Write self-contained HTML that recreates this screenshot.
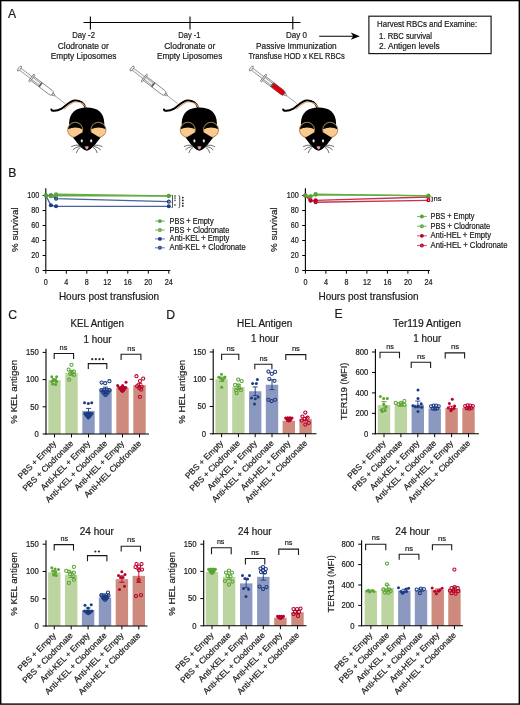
<!DOCTYPE html>
<html><head><meta charset="utf-8"><title>Figure</title>
<style>html,body{margin:0;padding:0;background:#fff;}body{width:520px;height:705px;overflow:hidden;font-family:"Liberation Sans", sans-serif;}svg{display:block;will-change:transform;}svg text{stroke:#1a1a1a;stroke-width:0.2px;}</style>
</head><body>
<svg width="520" height="705" viewBox="0 0 520 705" font-family='"Liberation Sans", sans-serif'>
<rect x="0" y="0" width="520" height="705" fill="#fff"/>
<text x="7.90" y="17.70" font-size="12.2" text-anchor="start" fill="#1a1a1a">A</text>
<line x1="83.50" y1="22.50" x2="300.50" y2="22.50" stroke="#000" stroke-width="1.1"/>
<line x1="90.40" y1="16.40" x2="90.40" y2="29.60" stroke="#000" stroke-width="1.1"/>
<line x1="190.00" y1="16.40" x2="190.00" y2="29.60" stroke="#000" stroke-width="1.1"/>
<line x1="292.80" y1="16.40" x2="292.80" y2="29.60" stroke="#000" stroke-width="1.1"/>
<text x="83.60" y="37.60" font-size="9.0" text-anchor="middle" textLength="22.80" lengthAdjust="spacingAndGlyphs" fill="#1a1a1a">Day -2</text>
<text x="83.30" y="48.80" font-size="9.0" text-anchor="middle" textLength="51.20" lengthAdjust="spacingAndGlyphs" fill="#1a1a1a">Clodronate or</text>
<text x="83.60" y="59.40" font-size="9.0" text-anchor="middle" textLength="65.70" lengthAdjust="spacingAndGlyphs" fill="#1a1a1a">Empty Liposomes</text>
<text x="189.40" y="38.20" font-size="9.0" text-anchor="middle" textLength="22.30" lengthAdjust="spacingAndGlyphs" fill="#1a1a1a">Day -1</text>
<text x="189.80" y="48.80" font-size="9.0" text-anchor="middle" textLength="51.10" lengthAdjust="spacingAndGlyphs" fill="#1a1a1a">Clodronate or</text>
<text x="189.60" y="59.40" font-size="9.0" text-anchor="middle" textLength="65.40" lengthAdjust="spacingAndGlyphs" fill="#1a1a1a">Empty Liposomes</text>
<text x="296.50" y="38.20" font-size="9.0" text-anchor="middle" textLength="21.00" lengthAdjust="spacingAndGlyphs" fill="#1a1a1a">Day 0</text>
<text x="296.40" y="48.80" font-size="9.0" text-anchor="middle" textLength="80.70" lengthAdjust="spacingAndGlyphs" fill="#1a1a1a">Passive Immunization</text>
<text x="296.60" y="59.40" font-size="9.0" text-anchor="middle" textLength="96.30" lengthAdjust="spacingAndGlyphs" fill="#1a1a1a">Transfuse HOD x KEL RBCs</text>
<line x1="319.20" y1="36.20" x2="354.50" y2="36.20" stroke="#000" stroke-width="1.1"/>
<path d="M359.8,36.2 L350.8,32.6 L353.2,36.2 L350.8,39.8 Z" fill="#000"/>
<rect x="368.9" y="16.2" width="122.2" height="37.4" fill="none" stroke="#1a1a1a" stroke-width="1.2"/>
<text x="377.10" y="26.80" font-size="8.3" text-anchor="start" textLength="100.00" lengthAdjust="spacingAndGlyphs" fill="#1a1a1a">Harvest RBCs and Examine:</text>
<text x="379.10" y="38.90" font-size="8.3" text-anchor="start" textLength="52.90" lengthAdjust="spacingAndGlyphs" fill="#1a1a1a">1. RBC survival</text>
<text x="379.10" y="48.60" font-size="8.3" text-anchor="start" textLength="60.60" lengthAdjust="spacingAndGlyphs" fill="#1a1a1a">2. Antigen levels</text>
<g transform="translate(19.0,68.2) rotate(37.5)" stroke="#5a5a5a" stroke-width="0.65" fill="#fafafa"><path d="M15.5,-2.55 L39.8,-2.55 Q42.3,-2.55 42.3,-0.9 L42.3,0.9 Q42.3,2.55 39.8,2.55 L15.5,2.55 Z" fill="#fdfdfd"/><rect x="0.8" y="-1.25" width="25.8" height="2.5" fill="#f6f6f6" stroke-width="0.55"/><rect x="26.5" y="-2.5" width="1.4" height="5.0" fill="#555" stroke="none"/><rect x="15.4" y="-4.5" width="1.5" height="9.0" rx="0.6" fill="#eee"/><ellipse cx="0.6" cy="0" rx="1.15" ry="3.0" fill="#f4f4f4"/><path d="M42.3,-1.3 L45,-0.5 L45,0.5 L42.3,1.3 Z" fill="#eee"/><line x1="45" y1="0" x2="58" y2="0" stroke="#777" stroke-width="0.6"/></g>
<g transform="translate(86.8,147.8)"><path d="M-1.2,-40.0 C-2.8,-45.0 -7.2,-47.6 -11.8,-47.4 C-17.0,-47.2 -20.6,-41.8 -25.2,-39.2 C-28.6,-37.3 -32.2,-36.6 -34.9,-37.3 L-35.4,-38.3" fill="none" stroke="#000" stroke-width="2.0" stroke-linecap="round" stroke-linejoin="round"/><path d="M-1.0,-40.4 C-2.6,-44.2 -6.8,-46.6 -11.6,-46.5 C-16.2,-46.3 -19.4,-42.0 -23.0,-39.6" fill="none" stroke="#dcaa70" stroke-width="1.15" stroke-linecap="round" transform="translate(0.45,0.7)"/><path d="M0,2.6 C-3.8,2.6 -8.5,-3.2 -13.2,-9.6 C-16.6,-14.2 -17.9,-19.2 -17.7,-24.5 C-17.3,-35.6 -10.6,-40.3 0,-40.3 C10.6,-40.3 17.3,-35.6 17.5,-24.5 C17.7,-19.2 16.6,-14.2 13.2,-9.6 C8.5,-3.2 3.8,2.6 0,2.6 Z" fill="#000"/><clipPath id="ec00"><circle cx="-11.6" cy="-18.0" r="7.1499999999999995"/></clipPath><circle cx="-11.6" cy="-18.0" r="7.6" fill="#f9c98e" stroke="#a0743a" stroke-width="0.8"/><g clip-path="url(#ec00)"><path d="M-20.6,-27.0 L-2.5999999999999996,-27.0 L-2.5999999999999996,-17.8 Q-11.6,-22.8 -20.6,-17.6 Z" fill="#000"/></g><clipPath id="ec02"><circle cx="11.6" cy="-18.0" r="7.1499999999999995"/></clipPath><circle cx="11.6" cy="-18.0" r="7.6" fill="#f9c98e" stroke="#a0743a" stroke-width="0.8"/><g clip-path="url(#ec02)"><path d="M2.5999999999999996,-27.0 L20.6,-27.0 L20.6,-17.8 Q11.6,-22.8 2.5999999999999996,-17.6 Z" fill="#000"/></g><path d="M0,2.6 C-3,2.6 -8,-3 -12.9,-10.2 L-5.5,-14.8 L0,-16 L5.5,-14.8 L12.9,-10.2 C8,-3 3,2.6 0,2.6 Z" fill="#000"/><ellipse cx="-5.0" cy="-7.0" rx="1.1" ry="1.6" fill="#e4e4e4"/><ellipse cx="4.4" cy="-7.0" rx="1.1" ry="1.6" fill="#e4e4e4"/><path d="M-2.1,-1.2 Q0,-1.9 2.1,-1.2 Q1.2,1.4 0,1.6 Q-1.2,1.4 -2.1,-1.2 Z" fill="#f49ac2"/><g stroke="#3c3c3c" stroke-width="0.75" stroke-linecap="round" fill="none"><path d="M7.0,-2.6 Q12.0,-3.2 15.2,-1.4"/><path d="M7.0,-1.4 Q11.5,-0.8 13.8,1.9"/><path d="M6.5,-0.4 Q9.6,1.2 10.4,4.9"/><path d="M-7.0,-2.6 Q-12.0,-3.2 -15.2,-1.4"/><path d="M-7.0,-1.4 Q-11.5,-0.8 -13.8,1.9"/><path d="M-6.5,-0.4 Q-9.6,1.2 -10.4,4.9"/></g></g>
<g transform="translate(131.6,68.2) rotate(37.5)" stroke="#5a5a5a" stroke-width="0.65" fill="#fafafa"><path d="M15.5,-2.55 L39.8,-2.55 Q42.3,-2.55 42.3,-0.9 L42.3,0.9 Q42.3,2.55 39.8,2.55 L15.5,2.55 Z" fill="#fdfdfd"/><rect x="0.8" y="-1.25" width="25.8" height="2.5" fill="#f6f6f6" stroke-width="0.55"/><rect x="26.5" y="-2.5" width="1.4" height="5.0" fill="#555" stroke="none"/><rect x="15.4" y="-4.5" width="1.5" height="9.0" rx="0.6" fill="#eee"/><ellipse cx="0.6" cy="0" rx="1.15" ry="3.0" fill="#f4f4f4"/><path d="M42.3,-1.3 L45,-0.5 L45,0.5 L42.3,1.3 Z" fill="#eee"/><line x1="45" y1="0" x2="58" y2="0" stroke="#777" stroke-width="0.6"/></g>
<g transform="translate(199.39999999999998,147.8)"><path d="M-1.2,-40.0 C-2.8,-45.0 -7.2,-47.6 -11.8,-47.4 C-17.0,-47.2 -20.6,-41.8 -25.2,-39.2 C-28.6,-37.3 -32.2,-36.6 -34.9,-37.3 L-35.4,-38.3" fill="none" stroke="#000" stroke-width="2.0" stroke-linecap="round" stroke-linejoin="round"/><path d="M-1.0,-40.4 C-2.6,-44.2 -6.8,-46.6 -11.6,-46.5 C-16.2,-46.3 -19.4,-42.0 -23.0,-39.6" fill="none" stroke="#dcaa70" stroke-width="1.15" stroke-linecap="round" transform="translate(0.45,0.7)"/><path d="M0,2.6 C-3.8,2.6 -8.5,-3.2 -13.2,-9.6 C-16.6,-14.2 -17.9,-19.2 -17.7,-24.5 C-17.3,-35.6 -10.6,-40.3 0,-40.3 C10.6,-40.3 17.3,-35.6 17.5,-24.5 C17.7,-19.2 16.6,-14.2 13.2,-9.6 C8.5,-3.2 3.8,2.6 0,2.6 Z" fill="#000"/><clipPath id="ec10"><circle cx="-11.6" cy="-18.0" r="7.1499999999999995"/></clipPath><circle cx="-11.6" cy="-18.0" r="7.6" fill="#f9c98e" stroke="#a0743a" stroke-width="0.8"/><g clip-path="url(#ec10)"><path d="M-20.6,-27.0 L-2.5999999999999996,-27.0 L-2.5999999999999996,-17.8 Q-11.6,-22.8 -20.6,-17.6 Z" fill="#000"/></g><clipPath id="ec12"><circle cx="11.6" cy="-18.0" r="7.1499999999999995"/></clipPath><circle cx="11.6" cy="-18.0" r="7.6" fill="#f9c98e" stroke="#a0743a" stroke-width="0.8"/><g clip-path="url(#ec12)"><path d="M2.5999999999999996,-27.0 L20.6,-27.0 L20.6,-17.8 Q11.6,-22.8 2.5999999999999996,-17.6 Z" fill="#000"/></g><path d="M0,2.6 C-3,2.6 -8,-3 -12.9,-10.2 L-5.5,-14.8 L0,-16 L5.5,-14.8 L12.9,-10.2 C8,-3 3,2.6 0,2.6 Z" fill="#000"/><ellipse cx="-5.0" cy="-7.0" rx="1.1" ry="1.6" fill="#e4e4e4"/><ellipse cx="4.4" cy="-7.0" rx="1.1" ry="1.6" fill="#e4e4e4"/><path d="M-2.1,-1.2 Q0,-1.9 2.1,-1.2 Q1.2,1.4 0,1.6 Q-1.2,1.4 -2.1,-1.2 Z" fill="#f49ac2"/><g stroke="#3c3c3c" stroke-width="0.75" stroke-linecap="round" fill="none"><path d="M7.0,-2.6 Q12.0,-3.2 15.2,-1.4"/><path d="M7.0,-1.4 Q11.5,-0.8 13.8,1.9"/><path d="M6.5,-0.4 Q9.6,1.2 10.4,4.9"/><path d="M-7.0,-2.6 Q-12.0,-3.2 -15.2,-1.4"/><path d="M-7.0,-1.4 Q-11.5,-0.8 -13.8,1.9"/><path d="M-6.5,-0.4 Q-9.6,1.2 -10.4,4.9"/></g></g>
<g transform="translate(250.8,68.2) rotate(37.5)" stroke="#5a5a5a" stroke-width="0.65" fill="#fafafa"><path d="M15.5,-2.55 L39.8,-2.55 Q42.3,-2.55 42.3,-0.9 L42.3,0.9 Q42.3,2.55 39.8,2.55 L15.5,2.55 Z" fill="#fdfdfd"/><path d="M27.8,-2.3 L39.6,-2.3 Q42,-2.3 42,-0.8 L42,0.8 Q42,2.3 39.6,2.3 L27.8,2.3 Z" fill="#d8000c" stroke="#b00012" stroke-width="0.5"/><rect x="0.8" y="-1.25" width="25.8" height="2.5" fill="#f6f6f6" stroke-width="0.55"/><rect x="26.5" y="-2.5" width="1.4" height="5.0" fill="#555" stroke="none"/><rect x="15.4" y="-4.5" width="1.5" height="9.0" rx="0.6" fill="#eee"/><ellipse cx="0.6" cy="0" rx="1.15" ry="3.0" fill="#f4f4f4"/><path d="M42.3,-1.3 L45,-0.5 L45,0.5 L42.3,1.3 Z" fill="#eee"/><line x1="45" y1="0" x2="58" y2="0" stroke="#777" stroke-width="0.6"/></g>
<g transform="translate(318.6,147.8)"><path d="M-1.2,-40.0 C-2.8,-45.0 -7.2,-47.6 -11.8,-47.4 C-17.0,-47.2 -20.6,-41.8 -25.2,-39.2 C-28.6,-37.3 -32.2,-36.6 -34.9,-37.3 L-35.4,-38.3" fill="none" stroke="#000" stroke-width="2.0" stroke-linecap="round" stroke-linejoin="round"/><path d="M-1.0,-40.4 C-2.6,-44.2 -6.8,-46.6 -11.6,-46.5 C-16.2,-46.3 -19.4,-42.0 -23.0,-39.6" fill="none" stroke="#dcaa70" stroke-width="1.15" stroke-linecap="round" transform="translate(0.45,0.7)"/><path d="M0,2.6 C-3.8,2.6 -8.5,-3.2 -13.2,-9.6 C-16.6,-14.2 -17.9,-19.2 -17.7,-24.5 C-17.3,-35.6 -10.6,-40.3 0,-40.3 C10.6,-40.3 17.3,-35.6 17.5,-24.5 C17.7,-19.2 16.6,-14.2 13.2,-9.6 C8.5,-3.2 3.8,2.6 0,2.6 Z" fill="#000"/><clipPath id="ec20"><circle cx="-11.6" cy="-18.0" r="7.1499999999999995"/></clipPath><circle cx="-11.6" cy="-18.0" r="7.6" fill="#f9c98e" stroke="#a0743a" stroke-width="0.8"/><g clip-path="url(#ec20)"><path d="M-20.6,-27.0 L-2.5999999999999996,-27.0 L-2.5999999999999996,-17.8 Q-11.6,-22.8 -20.6,-17.6 Z" fill="#000"/></g><clipPath id="ec22"><circle cx="11.6" cy="-18.0" r="7.1499999999999995"/></clipPath><circle cx="11.6" cy="-18.0" r="7.6" fill="#f9c98e" stroke="#a0743a" stroke-width="0.8"/><g clip-path="url(#ec22)"><path d="M2.5999999999999996,-27.0 L20.6,-27.0 L20.6,-17.8 Q11.6,-22.8 2.5999999999999996,-17.6 Z" fill="#000"/></g><path d="M0,2.6 C-3,2.6 -8,-3 -12.9,-10.2 L-5.5,-14.8 L0,-16 L5.5,-14.8 L12.9,-10.2 C8,-3 3,2.6 0,2.6 Z" fill="#000"/><ellipse cx="-5.0" cy="-7.0" rx="1.1" ry="1.6" fill="#e4e4e4"/><ellipse cx="4.4" cy="-7.0" rx="1.1" ry="1.6" fill="#e4e4e4"/><path d="M-2.1,-1.2 Q0,-1.9 2.1,-1.2 Q1.2,1.4 0,1.6 Q-1.2,1.4 -2.1,-1.2 Z" fill="#f49ac2"/><g stroke="#3c3c3c" stroke-width="0.75" stroke-linecap="round" fill="none"><path d="M7.0,-2.6 Q12.0,-3.2 15.2,-1.4"/><path d="M7.0,-1.4 Q11.5,-0.8 13.8,1.9"/><path d="M6.5,-0.4 Q9.6,1.2 10.4,4.9"/><path d="M-7.0,-2.6 Q-12.0,-3.2 -15.2,-1.4"/><path d="M-7.0,-1.4 Q-11.5,-0.8 -13.8,1.9"/><path d="M-6.5,-0.4 Q-9.6,1.2 -10.4,4.9"/></g></g>
<text x="8.30" y="177.20" font-size="12.2" text-anchor="start" fill="#1a1a1a">B</text>
<line x1="45.80" y1="188.20" x2="45.80" y2="271.00" stroke="#000" stroke-width="1.1"/>
<line x1="45.30" y1="270.50" x2="170.30" y2="270.50" stroke="#000" stroke-width="1.1"/>
<line x1="42.60" y1="270.50" x2="45.80" y2="270.50" stroke="#000" stroke-width="1"/>
<text x="39.20" y="273.30" font-size="8.3" text-anchor="end" textLength="4.00" lengthAdjust="spacingAndGlyphs" fill="#1a1a1a">0</text>
<line x1="42.60" y1="255.50" x2="45.80" y2="255.50" stroke="#000" stroke-width="1"/>
<text x="39.20" y="258.30" font-size="8.3" text-anchor="end" textLength="8.00" lengthAdjust="spacingAndGlyphs" fill="#1a1a1a">20</text>
<line x1="42.60" y1="240.50" x2="45.80" y2="240.50" stroke="#000" stroke-width="1"/>
<text x="39.20" y="243.30" font-size="8.3" text-anchor="end" textLength="8.00" lengthAdjust="spacingAndGlyphs" fill="#1a1a1a">40</text>
<line x1="42.60" y1="225.50" x2="45.80" y2="225.50" stroke="#000" stroke-width="1"/>
<text x="39.20" y="228.30" font-size="8.3" text-anchor="end" textLength="8.00" lengthAdjust="spacingAndGlyphs" fill="#1a1a1a">60</text>
<line x1="42.60" y1="210.50" x2="45.80" y2="210.50" stroke="#000" stroke-width="1"/>
<text x="39.20" y="213.30" font-size="8.3" text-anchor="end" textLength="8.00" lengthAdjust="spacingAndGlyphs" fill="#1a1a1a">80</text>
<line x1="42.60" y1="195.50" x2="45.80" y2="195.50" stroke="#000" stroke-width="1"/>
<text x="39.20" y="198.30" font-size="8.3" text-anchor="end" textLength="12.00" lengthAdjust="spacingAndGlyphs" fill="#1a1a1a">100</text>
<line x1="45.80" y1="270.50" x2="45.80" y2="273.70" stroke="#000" stroke-width="1"/>
<text x="45.80" y="285.30" font-size="8.3" text-anchor="middle" textLength="4.00" lengthAdjust="spacingAndGlyphs" fill="#1a1a1a">0</text>
<line x1="66.30" y1="270.50" x2="66.30" y2="273.70" stroke="#000" stroke-width="1"/>
<text x="66.30" y="285.30" font-size="8.3" text-anchor="middle" textLength="4.00" lengthAdjust="spacingAndGlyphs" fill="#1a1a1a">4</text>
<line x1="86.80" y1="270.50" x2="86.80" y2="273.70" stroke="#000" stroke-width="1"/>
<text x="86.80" y="285.30" font-size="8.3" text-anchor="middle" textLength="4.00" lengthAdjust="spacingAndGlyphs" fill="#1a1a1a">8</text>
<line x1="107.30" y1="270.50" x2="107.30" y2="273.70" stroke="#000" stroke-width="1"/>
<text x="107.30" y="285.30" font-size="8.3" text-anchor="middle" textLength="8.00" lengthAdjust="spacingAndGlyphs" fill="#1a1a1a">12</text>
<line x1="127.80" y1="270.50" x2="127.80" y2="273.70" stroke="#000" stroke-width="1"/>
<text x="127.80" y="285.30" font-size="8.3" text-anchor="middle" textLength="8.00" lengthAdjust="spacingAndGlyphs" fill="#1a1a1a">16</text>
<line x1="148.30" y1="270.50" x2="148.30" y2="273.70" stroke="#000" stroke-width="1"/>
<text x="148.30" y="285.30" font-size="8.3" text-anchor="middle" textLength="8.00" lengthAdjust="spacingAndGlyphs" fill="#1a1a1a">20</text>
<line x1="168.80" y1="270.50" x2="168.80" y2="273.70" stroke="#000" stroke-width="1"/>
<text x="168.80" y="285.30" font-size="8.3" text-anchor="middle" textLength="8.00" lengthAdjust="spacingAndGlyphs" fill="#1a1a1a">24</text>
<text x="109.00" y="299.90" font-size="10.3" text-anchor="middle" textLength="100.20" lengthAdjust="spacingAndGlyphs" fill="#1a1a1a">Hours post transfusion</text>
<text transform="translate(17.80,229.70) rotate(-90)" x="0" y="0" font-size="9.8" text-anchor="middle" textLength="44.70" lengthAdjust="spacingAndGlyphs" fill="#1a1a1a">% survival</text>
<path d="M45.80,195.50 L50.92,195.28 L56.05,198.65 L168.80,201.65" fill="none" stroke="#4862a0" stroke-width="1.35"/>
<circle cx="45.80" cy="195.50" r="1.43" fill="none" stroke="#1f3c85" stroke-width="1.27"/>
<circle cx="50.92" cy="195.28" r="1.43" fill="none" stroke="#1f3c85" stroke-width="1.27"/>
<circle cx="56.05" cy="198.65" r="1.43" fill="none" stroke="#1f3c85" stroke-width="1.27"/>
<circle cx="168.80" cy="201.65" r="1.43" fill="none" stroke="#1f3c85" stroke-width="1.27"/>
<path d="M45.80,195.50 L50.92,205.32 L56.05,206.30 L168.80,206.30" fill="none" stroke="#4862a0" stroke-width="1.35"/>
<circle cx="45.80" cy="195.50" r="2.05" fill="#1f3c85"/>
<circle cx="50.92" cy="205.32" r="2.05" fill="#1f3c85"/>
<circle cx="56.05" cy="206.30" r="2.05" fill="#1f3c85"/>
<circle cx="168.80" cy="206.30" r="2.05" fill="#1f3c85"/>
<path d="M45.80,195.50 L50.92,196.18 L56.05,195.50 L168.80,196.03" fill="none" stroke="#64ad42" stroke-width="1.35"/>
<circle cx="45.80" cy="195.50" r="2.05" fill="#55a332"/>
<circle cx="50.92" cy="196.18" r="2.05" fill="#55a332"/>
<circle cx="56.05" cy="195.50" r="2.05" fill="#55a332"/>
<circle cx="168.80" cy="196.03" r="2.05" fill="#55a332"/>
<path d="M45.80,195.50 L50.92,196.25 L56.05,194.30 L168.80,195.88" fill="none" stroke="#64ad42" stroke-width="1.35"/>
<circle cx="45.80" cy="195.50" r="1.43" fill="none" stroke="#55a332" stroke-width="1.27"/>
<circle cx="50.92" cy="196.25" r="1.43" fill="none" stroke="#55a332" stroke-width="1.27"/>
<circle cx="56.05" cy="194.30" r="1.43" fill="none" stroke="#55a332" stroke-width="1.27"/>
<circle cx="168.80" cy="195.88" r="1.43" fill="none" stroke="#55a332" stroke-width="1.27"/>
<line x1="155.00" y1="221.10" x2="164.80" y2="221.10" stroke="#64ad42" stroke-width="1.1" stroke-opacity="0.8"/>
<circle cx="159.90" cy="221.10" r="1.95" fill="#55a332"/>
<text x="169.60" y="223.60" font-size="8.4" text-anchor="start" textLength="44.00" lengthAdjust="spacingAndGlyphs" fill="#1a1a1a">PBS + Empty</text>
<line x1="155.00" y1="230.00" x2="164.80" y2="230.00" stroke="#64ad42" stroke-width="1.1" stroke-opacity="0.8"/>
<circle cx="159.90" cy="230.00" r="1.36" fill="none" stroke="#55a332" stroke-width="1.21"/>
<text x="169.60" y="232.50" font-size="8.4" text-anchor="start" textLength="59.70" lengthAdjust="spacingAndGlyphs" fill="#1a1a1a">PBS + Clodronate</text>
<line x1="155.00" y1="238.90" x2="164.80" y2="238.90" stroke="#4862a0" stroke-width="1.1" stroke-opacity="0.8"/>
<circle cx="159.90" cy="238.90" r="1.95" fill="#1f3c85"/>
<text x="169.60" y="241.40" font-size="8.4" text-anchor="start" textLength="59.70" lengthAdjust="spacingAndGlyphs" fill="#1a1a1a">Anti-KEL + Empty</text>
<line x1="155.00" y1="247.80" x2="164.80" y2="247.80" stroke="#4862a0" stroke-width="1.1" stroke-opacity="0.8"/>
<circle cx="159.90" cy="247.80" r="1.36" fill="none" stroke="#1f3c85" stroke-width="1.21"/>
<text x="169.60" y="250.30" font-size="8.4" text-anchor="start" textLength="76.10" lengthAdjust="spacingAndGlyphs" fill="#1a1a1a">Anti-KEL + Clodronate</text>
<g stroke="#1a1a1a" stroke-width="0.75" fill="none"><path d="M171.4,195.4 L172.5,195.4 L172.5,207.4 L171.4,207.4 M171.6,202.1 L172.5,202.1"/><path d="M178.4,195.5 Q179.7,195.6 179.7,196.8 L179.7,206.6 Q179.7,207.8 178.4,207.8"/></g>
<g fill="#555">
<circle cx="175.0" cy="195.9" r="0.85"/>
<circle cx="175.0" cy="198.1" r="0.85"/>
<circle cx="175.0" cy="200.3" r="0.85"/>
<circle cx="175.0" cy="204.9" r="0.85"/>
</g><g fill="#1a1a1a">
<circle cx="182.8" cy="197.6" r="0.9"/>
<circle cx="182.8" cy="200.4" r="0.9"/>
<circle cx="182.8" cy="203.3" r="0.9"/>
<circle cx="182.8" cy="205.9" r="0.9"/>
</g>
<line x1="305.40" y1="188.20" x2="305.40" y2="271.00" stroke="#000" stroke-width="1.1"/>
<line x1="304.90" y1="270.50" x2="429.90" y2="270.50" stroke="#000" stroke-width="1.1"/>
<line x1="302.20" y1="270.50" x2="305.40" y2="270.50" stroke="#000" stroke-width="1"/>
<text x="298.80" y="273.30" font-size="8.3" text-anchor="end" textLength="4.00" lengthAdjust="spacingAndGlyphs" fill="#1a1a1a">0</text>
<line x1="302.20" y1="255.50" x2="305.40" y2="255.50" stroke="#000" stroke-width="1"/>
<text x="298.80" y="258.30" font-size="8.3" text-anchor="end" textLength="8.00" lengthAdjust="spacingAndGlyphs" fill="#1a1a1a">20</text>
<line x1="302.20" y1="240.50" x2="305.40" y2="240.50" stroke="#000" stroke-width="1"/>
<text x="298.80" y="243.30" font-size="8.3" text-anchor="end" textLength="8.00" lengthAdjust="spacingAndGlyphs" fill="#1a1a1a">40</text>
<line x1="302.20" y1="225.50" x2="305.40" y2="225.50" stroke="#000" stroke-width="1"/>
<text x="298.80" y="228.30" font-size="8.3" text-anchor="end" textLength="8.00" lengthAdjust="spacingAndGlyphs" fill="#1a1a1a">60</text>
<line x1="302.20" y1="210.50" x2="305.40" y2="210.50" stroke="#000" stroke-width="1"/>
<text x="298.80" y="213.30" font-size="8.3" text-anchor="end" textLength="8.00" lengthAdjust="spacingAndGlyphs" fill="#1a1a1a">80</text>
<line x1="302.20" y1="195.50" x2="305.40" y2="195.50" stroke="#000" stroke-width="1"/>
<text x="298.80" y="198.30" font-size="8.3" text-anchor="end" textLength="12.00" lengthAdjust="spacingAndGlyphs" fill="#1a1a1a">100</text>
<line x1="305.40" y1="270.50" x2="305.40" y2="273.70" stroke="#000" stroke-width="1"/>
<text x="305.40" y="285.30" font-size="8.3" text-anchor="middle" textLength="4.00" lengthAdjust="spacingAndGlyphs" fill="#1a1a1a">0</text>
<line x1="325.90" y1="270.50" x2="325.90" y2="273.70" stroke="#000" stroke-width="1"/>
<text x="325.90" y="285.30" font-size="8.3" text-anchor="middle" textLength="4.00" lengthAdjust="spacingAndGlyphs" fill="#1a1a1a">4</text>
<line x1="346.40" y1="270.50" x2="346.40" y2="273.70" stroke="#000" stroke-width="1"/>
<text x="346.40" y="285.30" font-size="8.3" text-anchor="middle" textLength="4.00" lengthAdjust="spacingAndGlyphs" fill="#1a1a1a">8</text>
<line x1="366.90" y1="270.50" x2="366.90" y2="273.70" stroke="#000" stroke-width="1"/>
<text x="366.90" y="285.30" font-size="8.3" text-anchor="middle" textLength="8.00" lengthAdjust="spacingAndGlyphs" fill="#1a1a1a">12</text>
<line x1="387.40" y1="270.50" x2="387.40" y2="273.70" stroke="#000" stroke-width="1"/>
<text x="387.40" y="285.30" font-size="8.3" text-anchor="middle" textLength="8.00" lengthAdjust="spacingAndGlyphs" fill="#1a1a1a">16</text>
<line x1="407.90" y1="270.50" x2="407.90" y2="273.70" stroke="#000" stroke-width="1"/>
<text x="407.90" y="285.30" font-size="8.3" text-anchor="middle" textLength="8.00" lengthAdjust="spacingAndGlyphs" fill="#1a1a1a">20</text>
<line x1="428.40" y1="270.50" x2="428.40" y2="273.70" stroke="#000" stroke-width="1"/>
<text x="428.40" y="285.30" font-size="8.3" text-anchor="middle" textLength="8.00" lengthAdjust="spacingAndGlyphs" fill="#1a1a1a">24</text>
<text x="368.60" y="299.90" font-size="10.3" text-anchor="middle" textLength="100.20" lengthAdjust="spacingAndGlyphs" fill="#1a1a1a">Hours post transfusion</text>
<text transform="translate(277.40,229.70) rotate(-90)" x="0" y="0" font-size="9.8" text-anchor="middle" textLength="44.70" lengthAdjust="spacingAndGlyphs" fill="#1a1a1a">% survival</text>
<path d="M305.40,195.50 L310.52,200.00 L315.65,202.25 L428.40,200.30" fill="none" stroke="#c43250" stroke-width="1.35"/>
<circle cx="305.40" cy="195.50" r="1.43" fill="none" stroke="#b8002a" stroke-width="1.27"/>
<circle cx="310.52" cy="200.00" r="1.43" fill="none" stroke="#b8002a" stroke-width="1.27"/>
<circle cx="315.65" cy="202.25" r="1.43" fill="none" stroke="#b8002a" stroke-width="1.27"/>
<circle cx="428.40" cy="200.30" r="1.43" fill="none" stroke="#b8002a" stroke-width="1.27"/>
<path d="M305.40,195.50 L310.52,200.75 L315.65,200.30 L428.40,197.00" fill="none" stroke="#c43250" stroke-width="1.35"/>
<circle cx="305.40" cy="195.50" r="2.05" fill="#b8002a"/>
<circle cx="310.52" cy="200.75" r="2.05" fill="#b8002a"/>
<circle cx="315.65" cy="200.30" r="2.05" fill="#b8002a"/>
<circle cx="428.40" cy="197.00" r="2.05" fill="#b8002a"/>
<path d="M305.40,195.50 L310.52,196.25 L315.65,194.75 L428.40,195.57" fill="none" stroke="#64ad42" stroke-width="1.35"/>
<circle cx="305.40" cy="195.50" r="2.05" fill="#55a332"/>
<circle cx="310.52" cy="196.25" r="2.05" fill="#55a332"/>
<circle cx="315.65" cy="194.75" r="2.05" fill="#55a332"/>
<circle cx="428.40" cy="195.57" r="2.05" fill="#55a332"/>
<path d="M305.40,195.50 L310.52,196.55 L315.65,194.15 L428.40,195.95" fill="none" stroke="#64ad42" stroke-width="1.35"/>
<circle cx="305.40" cy="195.50" r="1.43" fill="none" stroke="#55a332" stroke-width="1.27"/>
<circle cx="310.52" cy="196.55" r="1.43" fill="none" stroke="#55a332" stroke-width="1.27"/>
<circle cx="315.65" cy="194.15" r="1.43" fill="none" stroke="#55a332" stroke-width="1.27"/>
<circle cx="428.40" cy="195.95" r="1.43" fill="none" stroke="#55a332" stroke-width="1.27"/>
<line x1="417.00" y1="216.50" x2="426.80" y2="216.50" stroke="#64ad42" stroke-width="1.1" stroke-opacity="0.8"/>
<circle cx="421.90" cy="216.50" r="1.95" fill="#55a332"/>
<text x="430.50" y="219.00" font-size="8.4" text-anchor="start" textLength="44.00" lengthAdjust="spacingAndGlyphs" fill="#1a1a1a">PBS + Empty</text>
<line x1="417.00" y1="226.17" x2="426.80" y2="226.17" stroke="#64ad42" stroke-width="1.1" stroke-opacity="0.8"/>
<circle cx="421.90" cy="226.17" r="1.36" fill="none" stroke="#55a332" stroke-width="1.21"/>
<text x="430.50" y="228.67" font-size="8.4" text-anchor="start" textLength="59.70" lengthAdjust="spacingAndGlyphs" fill="#1a1a1a">PBS + Clodronate</text>
<line x1="417.00" y1="235.84" x2="426.80" y2="235.84" stroke="#c43250" stroke-width="1.1" stroke-opacity="0.8"/>
<circle cx="421.90" cy="235.84" r="1.95" fill="#b8002a"/>
<text x="430.50" y="238.34" font-size="8.4" text-anchor="start" textLength="60.50" lengthAdjust="spacingAndGlyphs" fill="#1a1a1a">Anti-HEL + Empty</text>
<line x1="417.00" y1="245.51" x2="426.80" y2="245.51" stroke="#c43250" stroke-width="1.1" stroke-opacity="0.8"/>
<circle cx="421.90" cy="245.51" r="1.36" fill="none" stroke="#b8002a" stroke-width="1.21"/>
<text x="430.50" y="248.01" font-size="8.4" text-anchor="start" textLength="77.00" lengthAdjust="spacingAndGlyphs" fill="#1a1a1a">Anti-HEL + Clodronate</text>
<path d="M431.4,197.0 L432.3,197.0 L432.3,201.5 L431.4,201.5" stroke="#1a1a1a" stroke-width="0.9" fill="none"/>
<text x="433.60" y="200.70" font-size="8.0" text-anchor="start" textLength="8.00" lengthAdjust="spacingAndGlyphs" fill="#1a1a1a">ns</text>
<text x="8.20" y="318.50" font-size="12.2" text-anchor="start" fill="#1a1a1a">C</text>
<text x="166.20" y="318.80" font-size="12.2" text-anchor="start" fill="#1a1a1a">D</text>
<text x="334.40" y="318.30" font-size="12.2" text-anchor="start" fill="#1a1a1a">E</text>
<rect x="48.30" y="380.14" width="12.4" height="53.86" fill="#bcd4a0"/>
<rect x="65.30" y="372.91" width="12.4" height="61.09" fill="#bcd4a0"/>
<rect x="82.30" y="410.88" width="12.4" height="23.12" fill="#8b99c0"/>
<rect x="99.30" y="388.90" width="12.4" height="45.10" fill="#8b99c0"/>
<rect x="116.30" y="387.98" width="12.4" height="46.02" fill="#cf8a7e"/>
<rect x="133.30" y="385.09" width="12.4" height="48.91" fill="#cf8a7e"/>
<path d="M54.50,381.50 L54.50,378.78 M51.90,378.78 L57.10,378.78 M51.90,381.50 L57.10,381.50" stroke="#5aa534" stroke-width="0.9" fill="none"/>
<path d="M71.50,375.25 L71.50,370.35 M68.90,370.35 L74.10,370.35 M68.90,375.25 L74.10,375.25" stroke="#5aa534" stroke-width="0.9" fill="none"/>
<path d="M88.50,413.33 L88.50,408.43 M85.90,408.43 L91.10,408.43 M85.90,413.33 L91.10,413.33" stroke="#1b3a82" stroke-width="0.9" fill="none"/>
<path d="M105.50,390.48 L105.50,387.11 M102.90,387.11 L108.10,387.11 M102.90,390.48 L108.10,390.48" stroke="#1b3a82" stroke-width="0.9" fill="none"/>
<path d="M122.50,389.39 L122.50,386.67 M119.90,386.67 L125.10,386.67 M119.90,389.39 L125.10,389.39" stroke="#b8002b" stroke-width="0.9" fill="none"/>
<path d="M139.50,387.22 L139.50,383.41 M136.90,383.41 L142.10,383.41 M136.90,387.22 L142.10,387.22" stroke="#b8002b" stroke-width="0.9" fill="none"/>
<circle cx="51.80" cy="376.80" r="1.5" fill="#5aa534"/>
<circle cx="56.60" cy="376.80" r="1.5" fill="#5aa534"/>
<circle cx="53.20" cy="379.70" r="1.5" fill="#5aa534"/>
<circle cx="55.60" cy="380.20" r="1.5" fill="#5aa534"/>
<circle cx="51.80" cy="381.60" r="1.5" fill="#5aa534"/>
<circle cx="56.60" cy="381.80" r="1.5" fill="#5aa534"/>
<circle cx="52.70" cy="384.00" r="1.5" fill="#5aa534"/>
<circle cx="55.60" cy="384.50" r="1.5" fill="#5aa534"/>
<circle cx="71.50" cy="364.80" r="1.6" fill="none" stroke="#5aa534" stroke-width="1.05"/>
<circle cx="68.60" cy="369.60" r="1.6" fill="none" stroke="#5aa534" stroke-width="1.05"/>
<circle cx="73.90" cy="371.50" r="1.6" fill="none" stroke="#5aa534" stroke-width="1.05"/>
<circle cx="70.20" cy="373.60" r="1.6" fill="none" stroke="#5aa534" stroke-width="1.05"/>
<circle cx="73.90" cy="374.90" r="1.6" fill="none" stroke="#5aa534" stroke-width="1.05"/>
<circle cx="69.10" cy="379.70" r="1.6" fill="none" stroke="#5aa534" stroke-width="1.05"/>
<circle cx="71.80" cy="372.30" r="1.6" fill="none" stroke="#5aa534" stroke-width="1.05"/>
<circle cx="84.50" cy="402.70" r="1.5" fill="#1b3a82"/>
<circle cx="88.30" cy="403.40" r="1.5" fill="#1b3a82"/>
<circle cx="91.70" cy="402.70" r="1.5" fill="#1b3a82"/>
<circle cx="84.80" cy="413.53" r="1.5" fill="#1b3a82"/>
<circle cx="87.18" cy="413.30" r="1.5" fill="#1b3a82"/>
<circle cx="89.62" cy="413.30" r="1.5" fill="#1b3a82"/>
<circle cx="92.00" cy="413.53" r="1.5" fill="#1b3a82"/>
<circle cx="86.02" cy="415.14" r="1.5" fill="#1b3a82"/>
<circle cx="88.40" cy="415.05" r="1.5" fill="#1b3a82"/>
<circle cx="90.78" cy="415.14" r="1.5" fill="#1b3a82"/>
<circle cx="87.25" cy="416.75" r="1.5" fill="#1b3a82"/>
<circle cx="89.55" cy="416.75" r="1.5" fill="#1b3a82"/>
<circle cx="88.40" cy="417.90" r="1.5" fill="#1b3a82"/>
<circle cx="101.60" cy="382.50" r="1.6" fill="none" stroke="#1b3a82" stroke-width="1.05"/>
<circle cx="105.20" cy="383.20" r="1.6" fill="none" stroke="#1b3a82" stroke-width="1.05"/>
<circle cx="109.40" cy="381.20" r="1.6" fill="none" stroke="#1b3a82" stroke-width="1.05"/>
<circle cx="101.50" cy="390.15" r="1.6" fill="none" stroke="#1b3a82" stroke-width="1.05"/>
<circle cx="104.14" cy="389.90" r="1.6" fill="none" stroke="#1b3a82" stroke-width="1.05"/>
<circle cx="106.86" cy="389.90" r="1.6" fill="none" stroke="#1b3a82" stroke-width="1.05"/>
<circle cx="109.50" cy="390.15" r="1.6" fill="none" stroke="#1b3a82" stroke-width="1.05"/>
<circle cx="102.86" cy="391.90" r="1.6" fill="none" stroke="#1b3a82" stroke-width="1.05"/>
<circle cx="105.50" cy="391.80" r="1.6" fill="none" stroke="#1b3a82" stroke-width="1.05"/>
<circle cx="108.14" cy="391.90" r="1.6" fill="none" stroke="#1b3a82" stroke-width="1.05"/>
<circle cx="104.22" cy="393.65" r="1.6" fill="none" stroke="#1b3a82" stroke-width="1.05"/>
<circle cx="106.78" cy="393.65" r="1.6" fill="none" stroke="#1b3a82" stroke-width="1.05"/>
<circle cx="105.50" cy="394.90" r="1.6" fill="none" stroke="#1b3a82" stroke-width="1.05"/>
<circle cx="117.60" cy="385.40" r="1.5" fill="#b8002b"/>
<circle cx="122.60" cy="385.40" r="1.5" fill="#b8002b"/>
<circle cx="126.00" cy="382.20" r="1.5" fill="#b8002b"/>
<circle cx="118.90" cy="387.51" r="1.5" fill="#b8002b"/>
<circle cx="121.21" cy="387.30" r="1.5" fill="#b8002b"/>
<circle cx="123.59" cy="387.30" r="1.5" fill="#b8002b"/>
<circle cx="125.90" cy="387.51" r="1.5" fill="#b8002b"/>
<circle cx="120.09" cy="388.98" r="1.5" fill="#b8002b"/>
<circle cx="122.40" cy="388.90" r="1.5" fill="#b8002b"/>
<circle cx="124.71" cy="388.98" r="1.5" fill="#b8002b"/>
<circle cx="121.28" cy="390.45" r="1.5" fill="#b8002b"/>
<circle cx="123.52" cy="390.45" r="1.5" fill="#b8002b"/>
<circle cx="122.40" cy="391.50" r="1.5" fill="#b8002b"/>
<circle cx="136.40" cy="376.20" r="1.6" fill="none" stroke="#b8002b" stroke-width="1.05"/>
<circle cx="143.20" cy="378.60" r="1.6" fill="none" stroke="#b8002b" stroke-width="1.05"/>
<circle cx="140.00" cy="381.00" r="1.6" fill="none" stroke="#b8002b" stroke-width="1.05"/>
<circle cx="137.20" cy="386.20" r="1.6" fill="none" stroke="#b8002b" stroke-width="1.05"/>
<circle cx="141.60" cy="386.60" r="1.6" fill="none" stroke="#b8002b" stroke-width="1.05"/>
<circle cx="139.40" cy="388.20" r="1.6" fill="none" stroke="#b8002b" stroke-width="1.05"/>
<circle cx="141.20" cy="389.60" r="1.6" fill="none" stroke="#b8002b" stroke-width="1.05"/>
<circle cx="139.90" cy="396.80" r="1.6" fill="none" stroke="#b8002b" stroke-width="1.05"/>
<line x1="46.00" y1="348.80" x2="46.00" y2="434.55" stroke="#000" stroke-width="1.1"/>
<line x1="45.45" y1="434.00" x2="149.00" y2="434.00" stroke="#000" stroke-width="1.1"/>
<line x1="42.60" y1="434.00" x2="46.00" y2="434.00" stroke="#000" stroke-width="1"/>
<text x="38.80" y="436.80" font-size="8.3" text-anchor="end" textLength="4.27" lengthAdjust="spacingAndGlyphs" fill="#1a1a1a">0</text>
<line x1="42.60" y1="406.80" x2="46.00" y2="406.80" stroke="#000" stroke-width="1"/>
<text x="38.80" y="409.60" font-size="8.3" text-anchor="end" textLength="8.54" lengthAdjust="spacingAndGlyphs" fill="#1a1a1a">50</text>
<line x1="42.60" y1="379.60" x2="46.00" y2="379.60" stroke="#000" stroke-width="1"/>
<text x="38.80" y="382.40" font-size="8.3" text-anchor="end" textLength="12.81" lengthAdjust="spacingAndGlyphs" fill="#1a1a1a">100</text>
<line x1="42.60" y1="352.40" x2="46.00" y2="352.40" stroke="#000" stroke-width="1"/>
<text x="38.80" y="355.20" font-size="8.3" text-anchor="end" textLength="12.81" lengthAdjust="spacingAndGlyphs" fill="#1a1a1a">150</text>
<line x1="54.50" y1="434.00" x2="54.50" y2="437.40" stroke="#000" stroke-width="1"/>
<line x1="71.50" y1="434.00" x2="71.50" y2="437.40" stroke="#000" stroke-width="1"/>
<line x1="88.50" y1="434.00" x2="88.50" y2="437.40" stroke="#000" stroke-width="1"/>
<line x1="105.50" y1="434.00" x2="105.50" y2="437.40" stroke="#000" stroke-width="1"/>
<line x1="122.50" y1="434.00" x2="122.50" y2="437.40" stroke="#000" stroke-width="1"/>
<line x1="139.50" y1="434.00" x2="139.50" y2="437.40" stroke="#000" stroke-width="1"/>
<text transform="translate(56.70,444.00) rotate(-45)" font-size="8.4" text-anchor="end" fill="#1a1a1a">PBS + Empty</text>
<text transform="translate(73.70,444.00) rotate(-45)" font-size="8.4" text-anchor="end" fill="#1a1a1a">PBS + Clodronate</text>
<text transform="translate(90.70,444.00) rotate(-45)" font-size="8.4" text-anchor="end" fill="#1a1a1a">Anti-KEL + Empty</text>
<text transform="translate(107.70,444.00) rotate(-45)" font-size="8.4" text-anchor="end" fill="#1a1a1a">Anti-KEL + Clodronate</text>
<text transform="translate(124.70,444.00) rotate(-45)" font-size="8.4" text-anchor="end" fill="#1a1a1a">Anti-HEL + Empty</text>
<text transform="translate(141.70,444.00) rotate(-45)" font-size="8.4" text-anchor="end" fill="#1a1a1a">Anti-HEL Clodronate</text>
<text transform="translate(17.40,391.80) rotate(-90)" x="0" y="0" font-size="9.7" text-anchor="middle" textLength="63.80" lengthAdjust="spacingAndGlyphs" fill="#1a1a1a">% KEL antigen</text>
<text x="97.30" y="327.40" font-size="10.0" text-anchor="middle" textLength="53.40" lengthAdjust="spacingAndGlyphs" fill="#1a1a1a">KEL Antigen</text>
<text x="97.50" y="343.00" font-size="10.0" text-anchor="middle" textLength="28.00" lengthAdjust="spacingAndGlyphs" fill="#1a1a1a">1 hour</text>
<path d="M54.20,359.10 L54.20,353.50 L73.60,353.50 L73.60,359.10" stroke="#1a1a1a" stroke-width="1.1" fill="none"/>
<text x="63.50" y="350.30" font-size="8.0" text-anchor="middle" textLength="7.80" lengthAdjust="spacingAndGlyphs" fill="#1a1a1a">ns</text>
<path d="M88.30,369.00 L88.30,363.60 L106.80,363.60 L106.80,369.00" stroke="#1a1a1a" stroke-width="1.1" fill="none"/>
<circle cx="92.25" cy="359.20" r="1.1" fill="#2a2a2a"/>
<circle cx="95.85" cy="359.20" r="1.1" fill="#2a2a2a"/>
<circle cx="99.45" cy="359.20" r="1.1" fill="#2a2a2a"/>
<circle cx="103.05" cy="359.20" r="1.1" fill="#2a2a2a"/>
<path d="M121.10,359.90 L121.10,354.20 L140.90,354.20 L140.90,359.90" stroke="#1a1a1a" stroke-width="1.1" fill="none"/>
<text x="131.25" y="350.60" font-size="8.0" text-anchor="middle" textLength="7.90" lengthAdjust="spacingAndGlyphs" fill="#1a1a1a">ns</text>
<rect x="215.40" y="379.27" width="12.4" height="54.53" fill="#bcd4a0"/>
<rect x="232.20" y="386.90" width="12.4" height="46.90" fill="#bcd4a0"/>
<rect x="249.00" y="391.26" width="12.4" height="42.54" fill="#8b99c0"/>
<rect x="265.80" y="384.72" width="12.4" height="49.08" fill="#8b99c0"/>
<rect x="282.60" y="420.71" width="12.4" height="13.09" fill="#cf8a7e"/>
<rect x="299.40" y="419.08" width="12.4" height="14.72" fill="#cf8a7e"/>
<path d="M221.60,381.45 L221.60,377.09 M219.00,377.09 L224.20,377.09 M219.00,381.45 L224.20,381.45" stroke="#5aa534" stroke-width="0.9" fill="none"/>
<path d="M238.40,389.08 L238.40,384.72 M235.80,384.72 L241.00,384.72 M235.80,389.08 L241.00,389.08" stroke="#5aa534" stroke-width="0.9" fill="none"/>
<path d="M255.20,395.63 L255.20,386.90 M252.60,386.90 L257.80,386.90 M252.60,395.63 L257.80,395.63" stroke="#1b3a82" stroke-width="0.9" fill="none"/>
<path d="M272.00,389.63 L272.00,379.81 M269.40,379.81 L274.60,379.81 M269.40,389.63 L274.60,389.63" stroke="#1b3a82" stroke-width="0.9" fill="none"/>
<path d="M288.80,421.26 L288.80,420.17 M286.20,420.17 L291.40,420.17 M286.20,421.26 L291.40,421.26" stroke="#b8002b" stroke-width="0.9" fill="none"/>
<path d="M305.60,420.71 L305.60,417.44 M303.00,417.44 L308.20,417.44 M303.00,420.71 L308.20,420.71" stroke="#b8002b" stroke-width="0.9" fill="none"/>
<circle cx="221.50" cy="374.30" r="1.5" fill="#5aa534"/>
<circle cx="218.80" cy="377.20" r="1.5" fill="#5aa534"/>
<circle cx="220.70" cy="378.20" r="1.5" fill="#5aa534"/>
<circle cx="224.10" cy="378.20" r="1.5" fill="#5aa534"/>
<circle cx="222.60" cy="380.10" r="1.5" fill="#5aa534"/>
<circle cx="225.00" cy="377.00" r="1.5" fill="#5aa534"/>
<circle cx="221.70" cy="387.30" r="1.5" fill="#5aa534"/>
<circle cx="238.20" cy="379.60" r="1.6" fill="none" stroke="#5aa534" stroke-width="1.05"/>
<circle cx="241.70" cy="381.10" r="1.6" fill="none" stroke="#5aa534" stroke-width="1.05"/>
<circle cx="235.10" cy="384.90" r="1.6" fill="none" stroke="#5aa534" stroke-width="1.05"/>
<circle cx="238.50" cy="385.40" r="1.6" fill="none" stroke="#5aa534" stroke-width="1.05"/>
<circle cx="236.10" cy="390.20" r="1.6" fill="none" stroke="#5aa534" stroke-width="1.05"/>
<circle cx="240.90" cy="390.20" r="1.6" fill="none" stroke="#5aa534" stroke-width="1.05"/>
<circle cx="236.60" cy="393.10" r="1.6" fill="none" stroke="#5aa534" stroke-width="1.05"/>
<circle cx="239.40" cy="388.00" r="1.6" fill="none" stroke="#5aa534" stroke-width="1.05"/>
<circle cx="257.40" cy="379.60" r="1.5" fill="#1b3a82"/>
<circle cx="252.60" cy="383.50" r="1.5" fill="#1b3a82"/>
<circle cx="256.30" cy="383.50" r="1.5" fill="#1b3a82"/>
<circle cx="251.50" cy="397.90" r="1.5" fill="#1b3a82"/>
<circle cx="255.30" cy="398.80" r="1.5" fill="#1b3a82"/>
<circle cx="258.20" cy="396.90" r="1.5" fill="#1b3a82"/>
<circle cx="254.50" cy="404.10" r="1.5" fill="#1b3a82"/>
<circle cx="268.40" cy="371.50" r="1.6" fill="none" stroke="#1b3a82" stroke-width="1.05"/>
<circle cx="271.80" cy="373.80" r="1.6" fill="none" stroke="#1b3a82" stroke-width="1.05"/>
<circle cx="275.10" cy="371.90" r="1.6" fill="none" stroke="#1b3a82" stroke-width="1.05"/>
<circle cx="269.30" cy="379.00" r="1.6" fill="none" stroke="#1b3a82" stroke-width="1.05"/>
<circle cx="274.50" cy="380.80" r="1.6" fill="none" stroke="#1b3a82" stroke-width="1.05"/>
<circle cx="268.40" cy="399.80" r="1.6" fill="none" stroke="#1b3a82" stroke-width="1.05"/>
<circle cx="271.60" cy="401.00" r="1.6" fill="none" stroke="#1b3a82" stroke-width="1.05"/>
<circle cx="275.10" cy="399.80" r="1.6" fill="none" stroke="#1b3a82" stroke-width="1.05"/>
<circle cx="285.60" cy="417.96" r="1.5" fill="#b8002b"/>
<circle cx="287.71" cy="417.80" r="1.5" fill="#b8002b"/>
<circle cx="289.89" cy="417.80" r="1.5" fill="#b8002b"/>
<circle cx="292.00" cy="417.96" r="1.5" fill="#b8002b"/>
<circle cx="286.69" cy="419.08" r="1.5" fill="#b8002b"/>
<circle cx="288.80" cy="419.02" r="1.5" fill="#b8002b"/>
<circle cx="290.91" cy="419.08" r="1.5" fill="#b8002b"/>
<circle cx="287.78" cy="420.20" r="1.5" fill="#b8002b"/>
<circle cx="289.82" cy="420.20" r="1.5" fill="#b8002b"/>
<circle cx="288.80" cy="421.00" r="1.5" fill="#b8002b"/>
<circle cx="305.30" cy="412.50" r="1.6" fill="none" stroke="#b8002b" stroke-width="1.05"/>
<circle cx="302.40" cy="416.50" r="1.6" fill="none" stroke="#b8002b" stroke-width="1.05"/>
<circle cx="307.60" cy="417.70" r="1.6" fill="none" stroke="#b8002b" stroke-width="1.05"/>
<circle cx="304.70" cy="418.80" r="1.6" fill="none" stroke="#b8002b" stroke-width="1.05"/>
<circle cx="301.60" cy="420.60" r="1.6" fill="none" stroke="#b8002b" stroke-width="1.05"/>
<circle cx="308.70" cy="422.90" r="1.6" fill="none" stroke="#b8002b" stroke-width="1.05"/>
<circle cx="305.30" cy="424.60" r="1.6" fill="none" stroke="#b8002b" stroke-width="1.05"/>
<line x1="213.20" y1="348.90" x2="213.20" y2="434.35" stroke="#000" stroke-width="1.1"/>
<line x1="212.65" y1="433.80" x2="316.50" y2="433.80" stroke="#000" stroke-width="1.1"/>
<line x1="209.80" y1="433.80" x2="213.20" y2="433.80" stroke="#000" stroke-width="1"/>
<text x="206.00" y="436.60" font-size="8.3" text-anchor="end" textLength="4.27" lengthAdjust="spacingAndGlyphs" fill="#1a1a1a">0</text>
<line x1="209.80" y1="406.53" x2="213.20" y2="406.53" stroke="#000" stroke-width="1"/>
<text x="206.00" y="409.33" font-size="8.3" text-anchor="end" textLength="8.54" lengthAdjust="spacingAndGlyphs" fill="#1a1a1a">50</text>
<line x1="209.80" y1="379.27" x2="213.20" y2="379.27" stroke="#000" stroke-width="1"/>
<text x="206.00" y="382.07" font-size="8.3" text-anchor="end" textLength="12.81" lengthAdjust="spacingAndGlyphs" fill="#1a1a1a">100</text>
<line x1="209.80" y1="352.00" x2="213.20" y2="352.00" stroke="#000" stroke-width="1"/>
<text x="206.00" y="354.80" font-size="8.3" text-anchor="end" textLength="12.81" lengthAdjust="spacingAndGlyphs" fill="#1a1a1a">150</text>
<line x1="221.60" y1="433.80" x2="221.60" y2="437.20" stroke="#000" stroke-width="1"/>
<line x1="238.40" y1="433.80" x2="238.40" y2="437.20" stroke="#000" stroke-width="1"/>
<line x1="255.20" y1="433.80" x2="255.20" y2="437.20" stroke="#000" stroke-width="1"/>
<line x1="272.00" y1="433.80" x2="272.00" y2="437.20" stroke="#000" stroke-width="1"/>
<line x1="288.80" y1="433.80" x2="288.80" y2="437.20" stroke="#000" stroke-width="1"/>
<line x1="305.60" y1="433.80" x2="305.60" y2="437.20" stroke="#000" stroke-width="1"/>
<text transform="translate(223.80,443.80) rotate(-45)" font-size="8.4" text-anchor="end" fill="#1a1a1a">PBS + Empty</text>
<text transform="translate(240.60,443.80) rotate(-45)" font-size="8.4" text-anchor="end" fill="#1a1a1a">PBS + Clodronate</text>
<text transform="translate(257.40,443.80) rotate(-45)" font-size="8.4" text-anchor="end" fill="#1a1a1a">Anti-KEL + Empty</text>
<text transform="translate(274.20,443.80) rotate(-45)" font-size="8.4" text-anchor="end" fill="#1a1a1a">Anti-KEL + Clodronate</text>
<text transform="translate(291.00,443.80) rotate(-45)" font-size="8.4" text-anchor="end" fill="#1a1a1a">Anti-HEL + Empty</text>
<text transform="translate(307.80,443.80) rotate(-45)" font-size="8.4" text-anchor="end" fill="#1a1a1a">Anti-HEL + Clodronate</text>
<text transform="translate(185.00,391.80) rotate(-90)" x="0" y="0" font-size="9.7" text-anchor="middle" textLength="63.80" lengthAdjust="spacingAndGlyphs" fill="#1a1a1a">% HEL antigen</text>
<text x="264.70" y="327.40" font-size="10.0" text-anchor="middle" textLength="55.20" lengthAdjust="spacingAndGlyphs" fill="#1a1a1a">HEL Antigen</text>
<text x="264.90" y="342.40" font-size="10.0" text-anchor="middle" textLength="27.80" lengthAdjust="spacingAndGlyphs" fill="#1a1a1a">1 hour</text>
<path d="M221.60,359.90 L221.60,354.20 L238.80,354.20 L238.80,359.90" stroke="#1a1a1a" stroke-width="1.1" fill="none"/>
<text x="230.55" y="350.80" font-size="8.0" text-anchor="middle" textLength="8.10" lengthAdjust="spacingAndGlyphs" fill="#1a1a1a">ns</text>
<path d="M254.80,369.20 L254.80,364.30 L271.90,364.30 L271.90,369.20" stroke="#1a1a1a" stroke-width="1.1" fill="none"/>
<text x="263.50" y="360.60" font-size="8.0" text-anchor="middle" textLength="8.00" lengthAdjust="spacingAndGlyphs" fill="#1a1a1a">ns</text>
<path d="M285.80,360.00 L285.80,354.60 L305.80,354.60 L305.80,360.00" stroke="#1a1a1a" stroke-width="1.1" fill="none"/>
<text x="295.90" y="351.00" font-size="8.0" text-anchor="middle" textLength="8.00" lengthAdjust="spacingAndGlyphs" fill="#1a1a1a">ns</text>
<rect x="377.80" y="405.17" width="12.4" height="28.63" fill="#bcd4a0"/>
<rect x="394.70" y="404.66" width="12.4" height="29.14" fill="#bcd4a0"/>
<rect x="411.60" y="404.66" width="12.4" height="29.14" fill="#8b99c0"/>
<rect x="428.50" y="408.54" width="12.4" height="25.26" fill="#8b99c0"/>
<rect x="445.40" y="408.03" width="12.4" height="25.77" fill="#cf8a7e"/>
<rect x="462.30" y="407.73" width="12.4" height="26.07" fill="#cf8a7e"/>
<path d="M384.00,408.75 L384.00,401.59 M381.40,401.59 L386.60,401.59 M381.40,408.75 L386.60,408.75" stroke="#5aa534" stroke-width="0.9" fill="none"/>
<path d="M400.90,406.19 L400.90,403.12 M398.30,403.12 L403.50,403.12 M398.30,406.19 L403.50,406.19" stroke="#5aa534" stroke-width="0.9" fill="none"/>
<path d="M417.80,407.73 L417.80,401.08 M415.20,401.08 L420.40,401.08 M415.20,407.73 L420.40,407.73" stroke="#1b3a82" stroke-width="0.9" fill="none"/>
<path d="M434.70,409.26 L434.70,407.73 M432.10,407.73 L437.30,407.73 M432.10,409.26 L437.30,409.26" stroke="#1b3a82" stroke-width="0.9" fill="none"/>
<path d="M451.60,409.77 L451.60,406.19 M449.00,406.19 L454.20,406.19 M449.00,409.77 L454.20,409.77" stroke="#b8002b" stroke-width="0.9" fill="none"/>
<path d="M468.50,408.75 L468.50,406.70 M465.90,406.70 L471.10,406.70 M465.90,408.75 L471.10,408.75" stroke="#b8002b" stroke-width="0.9" fill="none"/>
<circle cx="380.30" cy="396.60" r="1.5" fill="#5aa534"/>
<circle cx="383.70" cy="398.60" r="1.5" fill="#5aa534"/>
<circle cx="387.30" cy="398.60" r="1.5" fill="#5aa534"/>
<circle cx="383.70" cy="404.30" r="1.5" fill="#5aa534"/>
<circle cx="386.10" cy="406.70" r="1.5" fill="#5aa534"/>
<circle cx="381.30" cy="410.10" r="1.5" fill="#5aa534"/>
<circle cx="385.10" cy="410.60" r="1.5" fill="#5aa534"/>
<circle cx="382.30" cy="411.50" r="1.5" fill="#5aa534"/>
<circle cx="395.70" cy="402.90" r="1.6" fill="none" stroke="#5aa534" stroke-width="1.05"/>
<circle cx="401.00" cy="402.90" r="1.6" fill="none" stroke="#5aa534" stroke-width="1.05"/>
<circle cx="404.40" cy="401.00" r="1.6" fill="none" stroke="#5aa534" stroke-width="1.05"/>
<circle cx="398.60" cy="404.30" r="1.6" fill="none" stroke="#5aa534" stroke-width="1.05"/>
<circle cx="404.40" cy="404.80" r="1.6" fill="none" stroke="#5aa534" stroke-width="1.05"/>
<circle cx="401.50" cy="404.60" r="1.6" fill="none" stroke="#5aa534" stroke-width="1.05"/>
<circle cx="418.00" cy="389.90" r="1.5" fill="#1b3a82"/>
<circle cx="418.00" cy="398.60" r="1.5" fill="#1b3a82"/>
<circle cx="421.20" cy="403.80" r="1.5" fill="#1b3a82"/>
<circle cx="413.00" cy="405.80" r="1.5" fill="#1b3a82"/>
<circle cx="415.40" cy="406.70" r="1.5" fill="#1b3a82"/>
<circle cx="418.30" cy="406.30" r="1.5" fill="#1b3a82"/>
<circle cx="421.70" cy="407.20" r="1.5" fill="#1b3a82"/>
<circle cx="418.00" cy="411.50" r="1.5" fill="#1b3a82"/>
<circle cx="431.10" cy="406.26" r="1.6" fill="none" stroke="#1b3a82" stroke-width="1.05"/>
<circle cx="433.53" cy="405.50" r="1.6" fill="none" stroke="#1b3a82" stroke-width="1.05"/>
<circle cx="436.12" cy="405.69" r="1.6" fill="none" stroke="#1b3a82" stroke-width="1.05"/>
<circle cx="438.70" cy="406.26" r="1.6" fill="none" stroke="#1b3a82" stroke-width="1.05"/>
<circle cx="432.62" cy="408.54" r="1.6" fill="none" stroke="#1b3a82" stroke-width="1.05"/>
<circle cx="435.28" cy="408.92" r="1.6" fill="none" stroke="#1b3a82" stroke-width="1.05"/>
<circle cx="437.48" cy="408.35" r="1.6" fill="none" stroke="#1b3a82" stroke-width="1.05"/>
<circle cx="452.30" cy="399.30" r="1.5" fill="#b8002b"/>
<circle cx="449.40" cy="403.50" r="1.5" fill="#b8002b"/>
<circle cx="454.60" cy="406.10" r="1.5" fill="#b8002b"/>
<circle cx="448.30" cy="407.70" r="1.5" fill="#b8002b"/>
<circle cx="451.40" cy="409.20" r="1.5" fill="#b8002b"/>
<circle cx="454.00" cy="408.20" r="1.5" fill="#b8002b"/>
<circle cx="450.90" cy="410.80" r="1.5" fill="#b8002b"/>
<circle cx="465.20" cy="406.12" r="1.6" fill="none" stroke="#b8002b" stroke-width="1.05"/>
<circle cx="467.63" cy="405.40" r="1.6" fill="none" stroke="#b8002b" stroke-width="1.05"/>
<circle cx="470.22" cy="405.58" r="1.6" fill="none" stroke="#b8002b" stroke-width="1.05"/>
<circle cx="472.80" cy="406.12" r="1.6" fill="none" stroke="#b8002b" stroke-width="1.05"/>
<circle cx="466.72" cy="408.28" r="1.6" fill="none" stroke="#b8002b" stroke-width="1.05"/>
<circle cx="469.38" cy="408.64" r="1.6" fill="none" stroke="#b8002b" stroke-width="1.05"/>
<circle cx="471.58" cy="408.10" r="1.6" fill="none" stroke="#b8002b" stroke-width="1.05"/>
<line x1="375.40" y1="348.90" x2="375.40" y2="434.35" stroke="#000" stroke-width="1.1"/>
<line x1="374.85" y1="433.80" x2="478.90" y2="433.80" stroke="#000" stroke-width="1.1"/>
<line x1="372.00" y1="433.80" x2="375.40" y2="433.80" stroke="#000" stroke-width="1"/>
<text x="368.20" y="436.60" font-size="8.3" text-anchor="end" textLength="4.27" lengthAdjust="spacingAndGlyphs" fill="#1a1a1a">0</text>
<line x1="372.00" y1="413.35" x2="375.40" y2="413.35" stroke="#000" stroke-width="1"/>
<text x="368.20" y="416.15" font-size="8.3" text-anchor="end" textLength="12.81" lengthAdjust="spacingAndGlyphs" fill="#1a1a1a">200</text>
<line x1="372.00" y1="392.90" x2="375.40" y2="392.90" stroke="#000" stroke-width="1"/>
<text x="368.20" y="395.70" font-size="8.3" text-anchor="end" textLength="12.81" lengthAdjust="spacingAndGlyphs" fill="#1a1a1a">400</text>
<line x1="372.00" y1="372.45" x2="375.40" y2="372.45" stroke="#000" stroke-width="1"/>
<text x="368.20" y="375.25" font-size="8.3" text-anchor="end" textLength="12.81" lengthAdjust="spacingAndGlyphs" fill="#1a1a1a">600</text>
<line x1="372.00" y1="352.00" x2="375.40" y2="352.00" stroke="#000" stroke-width="1"/>
<text x="368.20" y="354.80" font-size="8.3" text-anchor="end" textLength="12.81" lengthAdjust="spacingAndGlyphs" fill="#1a1a1a">800</text>
<line x1="384.00" y1="433.80" x2="384.00" y2="437.20" stroke="#000" stroke-width="1"/>
<line x1="400.90" y1="433.80" x2="400.90" y2="437.20" stroke="#000" stroke-width="1"/>
<line x1="417.80" y1="433.80" x2="417.80" y2="437.20" stroke="#000" stroke-width="1"/>
<line x1="434.70" y1="433.80" x2="434.70" y2="437.20" stroke="#000" stroke-width="1"/>
<line x1="451.60" y1="433.80" x2="451.60" y2="437.20" stroke="#000" stroke-width="1"/>
<line x1="468.50" y1="433.80" x2="468.50" y2="437.20" stroke="#000" stroke-width="1"/>
<text transform="translate(386.20,443.80) rotate(-45)" font-size="8.4" text-anchor="end" fill="#1a1a1a">PBS + Empty</text>
<text transform="translate(403.10,443.80) rotate(-45)" font-size="8.4" text-anchor="end" fill="#1a1a1a">PBS + Clodronate</text>
<text transform="translate(420.00,443.80) rotate(-45)" font-size="8.4" text-anchor="end" fill="#1a1a1a">Anti-KEL + Empty</text>
<text transform="translate(436.90,443.80) rotate(-45)" font-size="8.4" text-anchor="end" fill="#1a1a1a">Anti-KEL + Clodronate</text>
<text transform="translate(453.80,443.80) rotate(-45)" font-size="8.4" text-anchor="end" fill="#1a1a1a">Anti-HEL + Empty</text>
<text transform="translate(470.70,443.80) rotate(-45)" font-size="8.4" text-anchor="end" fill="#1a1a1a">Anti-HEL + Clodronate</text>
<text transform="translate(346.70,391.40) rotate(-90)" x="0" y="0" font-size="9.5" text-anchor="middle" textLength="57.40" lengthAdjust="spacingAndGlyphs" fill="#1a1a1a">TER119 (MFI)</text>
<text x="427.00" y="327.00" font-size="10.0" text-anchor="middle" textLength="67.90" lengthAdjust="spacingAndGlyphs" fill="#1a1a1a">Ter119 Antigen</text>
<text x="427.30" y="342.40" font-size="10.0" text-anchor="middle" textLength="28.00" lengthAdjust="spacingAndGlyphs" fill="#1a1a1a">1 hour</text>
<path d="M380.00,358.20 L380.00,352.30 L399.50,352.30 L399.50,358.20" stroke="#1a1a1a" stroke-width="1.1" fill="none"/>
<text x="390.05" y="348.90" font-size="8.0" text-anchor="middle" textLength="7.70" lengthAdjust="spacingAndGlyphs" fill="#1a1a1a">ns</text>
<path d="M411.20,368.10 L411.20,362.30 L430.60,362.30 L430.60,368.10" stroke="#1a1a1a" stroke-width="1.1" fill="none"/>
<text x="420.95" y="358.70" font-size="8.0" text-anchor="middle" textLength="8.10" lengthAdjust="spacingAndGlyphs" fill="#1a1a1a">ns</text>
<path d="M445.20,358.50 L445.20,352.90 L464.60,352.90 L464.60,358.50" stroke="#1a1a1a" stroke-width="1.1" fill="none"/>
<text x="455.00" y="349.20" font-size="8.0" text-anchor="middle" textLength="8.00" lengthAdjust="spacingAndGlyphs" fill="#1a1a1a">ns</text>
<rect x="48.10" y="572.28" width="12.4" height="53.72" fill="#bcd4a0"/>
<rect x="65.00" y="574.74" width="12.4" height="51.26" fill="#bcd4a0"/>
<rect x="81.90" y="610.19" width="12.4" height="15.81" fill="#8b99c0"/>
<rect x="98.80" y="597.64" width="12.4" height="28.36" fill="#8b99c0"/>
<rect x="115.70" y="579.10" width="12.4" height="46.90" fill="#cf8a7e"/>
<rect x="132.60" y="575.83" width="12.4" height="50.17" fill="#cf8a7e"/>
<path d="M54.30,573.65 L54.30,570.92 M51.70,570.92 L56.90,570.92 M51.70,573.65 L56.90,573.65" stroke="#5aa534" stroke-width="0.9" fill="none"/>
<path d="M71.20,577.47 L71.20,572.01 M68.60,572.01 L73.80,572.01 M68.60,577.47 L73.80,577.47" stroke="#5aa534" stroke-width="0.9" fill="none"/>
<path d="M88.10,612.37 L88.10,608.00 M85.50,608.00 L90.70,608.00 M85.50,612.37 L90.70,612.37" stroke="#1b3a82" stroke-width="0.9" fill="none"/>
<path d="M105.00,599.28 L105.00,596.01 M102.40,596.01 L107.60,596.01 M102.40,599.28 L107.60,599.28" stroke="#1b3a82" stroke-width="0.9" fill="none"/>
<path d="M121.90,582.37 L121.90,575.83 M119.30,575.83 L124.50,575.83 M119.30,582.37 L124.50,582.37" stroke="#b8002b" stroke-width="0.9" fill="none"/>
<path d="M138.80,582.37 L138.80,569.29 M136.20,569.29 L141.40,569.29 M136.20,582.37 L141.40,582.37" stroke="#b8002b" stroke-width="0.9" fill="none"/>
<circle cx="51.80" cy="567.70" r="1.5" fill="#5aa534"/>
<circle cx="55.10" cy="569.10" r="1.5" fill="#5aa534"/>
<circle cx="58.50" cy="569.60" r="1.5" fill="#5aa534"/>
<circle cx="52.70" cy="571.10" r="1.5" fill="#5aa534"/>
<circle cx="55.60" cy="572.00" r="1.5" fill="#5aa534"/>
<circle cx="53.70" cy="574.90" r="1.5" fill="#5aa534"/>
<circle cx="56.10" cy="575.40" r="1.5" fill="#5aa534"/>
<circle cx="73.90" cy="566.90" r="1.6" fill="none" stroke="#5aa534" stroke-width="1.05"/>
<circle cx="66.20" cy="570.80" r="1.6" fill="none" stroke="#5aa534" stroke-width="1.05"/>
<circle cx="69.10" cy="571.70" r="1.6" fill="none" stroke="#5aa534" stroke-width="1.05"/>
<circle cx="73.90" cy="572.50" r="1.6" fill="none" stroke="#5aa534" stroke-width="1.05"/>
<circle cx="70.00" cy="573.90" r="1.6" fill="none" stroke="#5aa534" stroke-width="1.05"/>
<circle cx="73.40" cy="576.30" r="1.6" fill="none" stroke="#5aa534" stroke-width="1.05"/>
<circle cx="73.90" cy="579.70" r="1.6" fill="none" stroke="#5aa534" stroke-width="1.05"/>
<circle cx="68.90" cy="582.90" r="1.6" fill="none" stroke="#5aa534" stroke-width="1.05"/>
<circle cx="85.00" cy="605.20" r="1.5" fill="#1b3a82"/>
<circle cx="91.20" cy="604.70" r="1.5" fill="#1b3a82"/>
<circle cx="88.10" cy="608.10" r="1.5" fill="#1b3a82"/>
<circle cx="84.60" cy="611.04" r="1.5" fill="#1b3a82"/>
<circle cx="87.04" cy="610.90" r="1.5" fill="#1b3a82"/>
<circle cx="89.56" cy="610.90" r="1.5" fill="#1b3a82"/>
<circle cx="92.00" cy="611.04" r="1.5" fill="#1b3a82"/>
<circle cx="85.86" cy="612.02" r="1.5" fill="#1b3a82"/>
<circle cx="88.30" cy="611.96" r="1.5" fill="#1b3a82"/>
<circle cx="90.74" cy="612.02" r="1.5" fill="#1b3a82"/>
<circle cx="87.12" cy="613.00" r="1.5" fill="#1b3a82"/>
<circle cx="89.48" cy="613.00" r="1.5" fill="#1b3a82"/>
<circle cx="88.30" cy="613.70" r="1.5" fill="#1b3a82"/>
<circle cx="108.00" cy="592.50" r="1.6" fill="none" stroke="#1b3a82" stroke-width="1.05"/>
<circle cx="101.50" cy="595.00" r="1.6" fill="none" stroke="#1b3a82" stroke-width="1.05"/>
<circle cx="101.50" cy="595.62" r="1.6" fill="none" stroke="#1b3a82" stroke-width="1.05"/>
<circle cx="103.81" cy="595.40" r="1.6" fill="none" stroke="#1b3a82" stroke-width="1.05"/>
<circle cx="106.19" cy="595.40" r="1.6" fill="none" stroke="#1b3a82" stroke-width="1.05"/>
<circle cx="108.50" cy="595.62" r="1.6" fill="none" stroke="#1b3a82" stroke-width="1.05"/>
<circle cx="102.69" cy="597.16" r="1.6" fill="none" stroke="#1b3a82" stroke-width="1.05"/>
<circle cx="105.00" cy="597.07" r="1.6" fill="none" stroke="#1b3a82" stroke-width="1.05"/>
<circle cx="107.31" cy="597.16" r="1.6" fill="none" stroke="#1b3a82" stroke-width="1.05"/>
<circle cx="103.88" cy="598.70" r="1.6" fill="none" stroke="#1b3a82" stroke-width="1.05"/>
<circle cx="106.12" cy="598.70" r="1.6" fill="none" stroke="#1b3a82" stroke-width="1.05"/>
<circle cx="105.00" cy="599.80" r="1.6" fill="none" stroke="#1b3a82" stroke-width="1.05"/>
<circle cx="121.80" cy="571.80" r="1.5" fill="#b8002b"/>
<circle cx="118.50" cy="575.50" r="1.5" fill="#b8002b"/>
<circle cx="125.00" cy="574.50" r="1.5" fill="#b8002b"/>
<circle cx="120.50" cy="577.50" r="1.5" fill="#b8002b"/>
<circle cx="123.00" cy="577.50" r="1.5" fill="#b8002b"/>
<circle cx="124.50" cy="586.20" r="1.5" fill="#b8002b"/>
<circle cx="119.50" cy="589.50" r="1.5" fill="#b8002b"/>
<circle cx="136.50" cy="564.00" r="1.6" fill="none" stroke="#b8002b" stroke-width="1.05"/>
<circle cx="141.50" cy="564.00" r="1.6" fill="none" stroke="#b8002b" stroke-width="1.05"/>
<circle cx="139.00" cy="566.50" r="1.6" fill="none" stroke="#b8002b" stroke-width="1.05"/>
<circle cx="135.50" cy="567.00" r="1.6" fill="none" stroke="#b8002b" stroke-width="1.05"/>
<circle cx="142.00" cy="569.50" r="1.6" fill="none" stroke="#b8002b" stroke-width="1.05"/>
<circle cx="139.00" cy="570.00" r="1.6" fill="none" stroke="#b8002b" stroke-width="1.05"/>
<circle cx="138.60" cy="580.00" r="1.6" fill="none" stroke="#b8002b" stroke-width="1.05"/>
<circle cx="136.00" cy="596.00" r="1.6" fill="none" stroke="#b8002b" stroke-width="1.05"/>
<circle cx="141.00" cy="595.00" r="1.6" fill="none" stroke="#b8002b" stroke-width="1.05"/>
<line x1="46.00" y1="540.20" x2="46.00" y2="626.55" stroke="#000" stroke-width="1.1"/>
<line x1="45.45" y1="626.00" x2="147.50" y2="626.00" stroke="#000" stroke-width="1.1"/>
<line x1="42.60" y1="626.00" x2="46.00" y2="626.00" stroke="#000" stroke-width="1"/>
<text x="38.80" y="628.80" font-size="8.3" text-anchor="end" textLength="4.27" lengthAdjust="spacingAndGlyphs" fill="#1a1a1a">0</text>
<line x1="42.60" y1="598.73" x2="46.00" y2="598.73" stroke="#000" stroke-width="1"/>
<text x="38.80" y="601.53" font-size="8.3" text-anchor="end" textLength="8.54" lengthAdjust="spacingAndGlyphs" fill="#1a1a1a">50</text>
<line x1="42.60" y1="571.47" x2="46.00" y2="571.47" stroke="#000" stroke-width="1"/>
<text x="38.80" y="574.27" font-size="8.3" text-anchor="end" textLength="12.81" lengthAdjust="spacingAndGlyphs" fill="#1a1a1a">100</text>
<line x1="42.60" y1="544.20" x2="46.00" y2="544.20" stroke="#000" stroke-width="1"/>
<text x="38.80" y="547.00" font-size="8.3" text-anchor="end" textLength="12.81" lengthAdjust="spacingAndGlyphs" fill="#1a1a1a">150</text>
<line x1="54.30" y1="626.00" x2="54.30" y2="629.40" stroke="#000" stroke-width="1"/>
<line x1="71.20" y1="626.00" x2="71.20" y2="629.40" stroke="#000" stroke-width="1"/>
<line x1="88.10" y1="626.00" x2="88.10" y2="629.40" stroke="#000" stroke-width="1"/>
<line x1="105.00" y1="626.00" x2="105.00" y2="629.40" stroke="#000" stroke-width="1"/>
<line x1="121.90" y1="626.00" x2="121.90" y2="629.40" stroke="#000" stroke-width="1"/>
<line x1="138.80" y1="626.00" x2="138.80" y2="629.40" stroke="#000" stroke-width="1"/>
<text transform="translate(56.50,636.00) rotate(-45)" font-size="8.4" text-anchor="end" fill="#1a1a1a">PBS + Empty</text>
<text transform="translate(73.40,636.00) rotate(-45)" font-size="8.4" text-anchor="end" fill="#1a1a1a">PBS + Clodronate</text>
<text transform="translate(90.30,636.00) rotate(-45)" font-size="8.4" text-anchor="end" fill="#1a1a1a">Anti-KEL + Empty</text>
<text transform="translate(107.20,636.00) rotate(-45)" font-size="8.4" text-anchor="end" fill="#1a1a1a">Anti-KEL + Clodronate</text>
<text transform="translate(124.10,636.00) rotate(-45)" font-size="8.4" text-anchor="end" fill="#1a1a1a">Anti-HEL + Empty</text>
<text transform="translate(141.00,636.00) rotate(-45)" font-size="8.4" text-anchor="end" fill="#1a1a1a">Anti-HEL + Clodronate</text>
<text transform="translate(17.40,583.90) rotate(-90)" x="0" y="0" font-size="9.7" text-anchor="middle" textLength="63.80" lengthAdjust="spacingAndGlyphs" fill="#1a1a1a">% KEL antigen</text>
<text x="96.80" y="535.00" font-size="10.0" text-anchor="middle" textLength="34.00" lengthAdjust="spacingAndGlyphs" fill="#1a1a1a">24 hour</text>
<path d="M54.20,550.40 L54.20,544.60 L73.50,544.60 L73.50,550.40" stroke="#1a1a1a" stroke-width="1.1" fill="none"/>
<text x="64.20" y="541.20" font-size="8.0" text-anchor="middle" textLength="7.60" lengthAdjust="spacingAndGlyphs" fill="#1a1a1a">ns</text>
<path d="M87.50,561.20 L87.50,555.60 L106.90,555.60 L106.90,561.20" stroke="#1a1a1a" stroke-width="1.1" fill="none"/>
<circle cx="95.35" cy="551.50" r="1.1" fill="#2a2a2a"/>
<circle cx="98.95" cy="551.50" r="1.1" fill="#2a2a2a"/>
<path d="M121.20,551.50 L121.20,546.20 L140.50,546.20 L140.50,551.50" stroke="#1a1a1a" stroke-width="1.1" fill="none"/>
<text x="130.95" y="542.30" font-size="8.0" text-anchor="middle" textLength="8.10" lengthAdjust="spacingAndGlyphs" fill="#1a1a1a">ns</text>
<rect x="205.80" y="571.94" width="12.4" height="53.86" fill="#bcd4a0"/>
<rect x="222.90" y="576.84" width="12.4" height="48.96" fill="#bcd4a0"/>
<rect x="240.00" y="583.37" width="12.4" height="42.43" fill="#8b99c0"/>
<rect x="257.10" y="576.84" width="12.4" height="48.96" fill="#8b99c0"/>
<rect x="274.20" y="617.64" width="12.4" height="8.16" fill="#cf8a7e"/>
<rect x="291.30" y="612.20" width="12.4" height="13.60" fill="#cf8a7e"/>
<path d="M212.00,573.03 L212.00,570.86 M209.40,570.86 L214.60,570.86 M209.40,573.03 L214.60,573.03" stroke="#5aa534" stroke-width="0.9" fill="none"/>
<path d="M229.10,579.56 L229.10,574.12 M226.50,574.12 L231.70,574.12 M226.50,579.56 L231.70,579.56" stroke="#5aa534" stroke-width="0.9" fill="none"/>
<path d="M246.20,587.72 L246.20,579.02 M243.60,579.02 L248.80,579.02 M243.60,587.72 L248.80,587.72" stroke="#1b3a82" stroke-width="0.9" fill="none"/>
<path d="M263.30,580.10 L263.30,573.58 M260.70,573.58 L265.90,573.58 M260.70,580.10 L265.90,580.10" stroke="#1b3a82" stroke-width="0.9" fill="none"/>
<path d="M280.40,618.18 L280.40,616.55 M277.80,616.55 L283.00,616.55 M277.80,618.18 L283.00,618.18" stroke="#b8002b" stroke-width="0.9" fill="none"/>
<path d="M297.50,613.83 L297.50,610.57 M294.90,610.57 L300.10,610.57 M294.90,613.83 L300.10,613.83" stroke="#b8002b" stroke-width="0.9" fill="none"/>
<circle cx="208.60" cy="569.22" r="1.5" fill="#5aa534"/>
<circle cx="210.84" cy="569.00" r="1.5" fill="#5aa534"/>
<circle cx="213.16" cy="569.00" r="1.5" fill="#5aa534"/>
<circle cx="215.40" cy="569.22" r="1.5" fill="#5aa534"/>
<circle cx="209.76" cy="570.76" r="1.5" fill="#5aa534"/>
<circle cx="212.00" cy="570.67" r="1.5" fill="#5aa534"/>
<circle cx="214.24" cy="570.76" r="1.5" fill="#5aa534"/>
<circle cx="210.91" cy="572.30" r="1.5" fill="#5aa534"/>
<circle cx="213.09" cy="572.30" r="1.5" fill="#5aa534"/>
<circle cx="212.00" cy="573.40" r="1.5" fill="#5aa534"/>
<circle cx="229.00" cy="570.50" r="1.6" fill="none" stroke="#5aa534" stroke-width="1.05"/>
<circle cx="226.00" cy="572.50" r="1.6" fill="none" stroke="#5aa534" stroke-width="1.05"/>
<circle cx="232.00" cy="572.50" r="1.6" fill="none" stroke="#5aa534" stroke-width="1.05"/>
<circle cx="227.50" cy="576.00" r="1.6" fill="none" stroke="#5aa534" stroke-width="1.05"/>
<circle cx="230.50" cy="576.50" r="1.6" fill="none" stroke="#5aa534" stroke-width="1.05"/>
<circle cx="225.00" cy="581.00" r="1.6" fill="none" stroke="#5aa534" stroke-width="1.05"/>
<circle cx="232.50" cy="581.50" r="1.6" fill="none" stroke="#5aa534" stroke-width="1.05"/>
<circle cx="229.00" cy="584.50" r="1.6" fill="none" stroke="#5aa534" stroke-width="1.05"/>
<circle cx="242.50" cy="575.50" r="1.5" fill="#1b3a82"/>
<circle cx="249.50" cy="575.50" r="1.5" fill="#1b3a82"/>
<circle cx="245.00" cy="578.50" r="1.5" fill="#1b3a82"/>
<circle cx="247.50" cy="579.00" r="1.5" fill="#1b3a82"/>
<circle cx="243.50" cy="588.50" r="1.5" fill="#1b3a82"/>
<circle cx="248.50" cy="589.20" r="1.5" fill="#1b3a82"/>
<circle cx="246.00" cy="596.50" r="1.5" fill="#1b3a82"/>
<circle cx="263.00" cy="567.00" r="1.6" fill="none" stroke="#1b3a82" stroke-width="1.05"/>
<circle cx="260.50" cy="568.50" r="1.6" fill="none" stroke="#1b3a82" stroke-width="1.05"/>
<circle cx="265.80" cy="569.00" r="1.6" fill="none" stroke="#1b3a82" stroke-width="1.05"/>
<circle cx="263.00" cy="570.50" r="1.6" fill="none" stroke="#1b3a82" stroke-width="1.05"/>
<circle cx="261.00" cy="572.00" r="1.6" fill="none" stroke="#1b3a82" stroke-width="1.05"/>
<circle cx="265.00" cy="572.50" r="1.6" fill="none" stroke="#1b3a82" stroke-width="1.05"/>
<circle cx="259.50" cy="586.50" r="1.6" fill="none" stroke="#1b3a82" stroke-width="1.05"/>
<circle cx="263.00" cy="589.00" r="1.6" fill="none" stroke="#1b3a82" stroke-width="1.05"/>
<circle cx="266.50" cy="587.00" r="1.6" fill="none" stroke="#1b3a82" stroke-width="1.05"/>
<circle cx="277.50" cy="616.32" r="1.5" fill="#b8002b"/>
<circle cx="279.48" cy="616.20" r="1.5" fill="#b8002b"/>
<circle cx="281.52" cy="616.20" r="1.5" fill="#b8002b"/>
<circle cx="283.50" cy="616.32" r="1.5" fill="#b8002b"/>
<circle cx="278.52" cy="617.16" r="1.5" fill="#b8002b"/>
<circle cx="280.50" cy="617.11" r="1.5" fill="#b8002b"/>
<circle cx="282.48" cy="617.16" r="1.5" fill="#b8002b"/>
<circle cx="279.54" cy="618.00" r="1.5" fill="#b8002b"/>
<circle cx="281.46" cy="618.00" r="1.5" fill="#b8002b"/>
<circle cx="280.50" cy="618.60" r="1.5" fill="#b8002b"/>
<circle cx="293.50" cy="609.00" r="1.6" fill="none" stroke="#b8002b" stroke-width="1.05"/>
<circle cx="297.00" cy="609.00" r="1.6" fill="none" stroke="#b8002b" stroke-width="1.05"/>
<circle cx="300.50" cy="608.50" r="1.6" fill="none" stroke="#b8002b" stroke-width="1.05"/>
<circle cx="295.00" cy="612.00" r="1.6" fill="none" stroke="#b8002b" stroke-width="1.05"/>
<circle cx="299.00" cy="612.00" r="1.6" fill="none" stroke="#b8002b" stroke-width="1.05"/>
<circle cx="293.50" cy="614.00" r="1.6" fill="none" stroke="#b8002b" stroke-width="1.05"/>
<circle cx="298.00" cy="616.00" r="1.6" fill="none" stroke="#b8002b" stroke-width="1.05"/>
<line x1="203.70" y1="540.20" x2="203.70" y2="626.35" stroke="#000" stroke-width="1.1"/>
<line x1="203.15" y1="625.80" x2="306.50" y2="625.80" stroke="#000" stroke-width="1.1"/>
<line x1="200.30" y1="625.80" x2="203.70" y2="625.80" stroke="#000" stroke-width="1"/>
<text x="196.50" y="628.60" font-size="8.3" text-anchor="end" textLength="4.27" lengthAdjust="spacingAndGlyphs" fill="#1a1a1a">0</text>
<line x1="200.30" y1="598.60" x2="203.70" y2="598.60" stroke="#000" stroke-width="1"/>
<text x="196.50" y="601.40" font-size="8.3" text-anchor="end" textLength="8.54" lengthAdjust="spacingAndGlyphs" fill="#1a1a1a">50</text>
<line x1="200.30" y1="571.40" x2="203.70" y2="571.40" stroke="#000" stroke-width="1"/>
<text x="196.50" y="574.20" font-size="8.3" text-anchor="end" textLength="12.81" lengthAdjust="spacingAndGlyphs" fill="#1a1a1a">100</text>
<line x1="200.30" y1="544.20" x2="203.70" y2="544.20" stroke="#000" stroke-width="1"/>
<text x="196.50" y="547.00" font-size="8.3" text-anchor="end" textLength="12.81" lengthAdjust="spacingAndGlyphs" fill="#1a1a1a">150</text>
<line x1="212.00" y1="625.80" x2="212.00" y2="629.20" stroke="#000" stroke-width="1"/>
<line x1="229.10" y1="625.80" x2="229.10" y2="629.20" stroke="#000" stroke-width="1"/>
<line x1="246.20" y1="625.80" x2="246.20" y2="629.20" stroke="#000" stroke-width="1"/>
<line x1="263.30" y1="625.80" x2="263.30" y2="629.20" stroke="#000" stroke-width="1"/>
<line x1="280.40" y1="625.80" x2="280.40" y2="629.20" stroke="#000" stroke-width="1"/>
<line x1="297.50" y1="625.80" x2="297.50" y2="629.20" stroke="#000" stroke-width="1"/>
<text transform="translate(214.20,635.80) rotate(-45)" font-size="8.4" text-anchor="end" fill="#1a1a1a">PBS + Empty</text>
<text transform="translate(231.30,635.80) rotate(-45)" font-size="8.4" text-anchor="end" fill="#1a1a1a">PBS + Clodronate</text>
<text transform="translate(248.40,635.80) rotate(-45)" font-size="8.4" text-anchor="end" fill="#1a1a1a">Anti-KEL + Empty</text>
<text transform="translate(265.50,635.80) rotate(-45)" font-size="8.4" text-anchor="end" fill="#1a1a1a">Anti-KEL + Clodronate</text>
<text transform="translate(282.60,635.80) rotate(-45)" font-size="8.4" text-anchor="end" fill="#1a1a1a">Anti-HEL + Empty</text>
<text transform="translate(299.70,635.80) rotate(-45)" font-size="8.4" text-anchor="end" fill="#1a1a1a">Anti-HEL + Clodronate</text>
<text transform="translate(175.30,583.90) rotate(-90)" x="0" y="0" font-size="9.7" text-anchor="middle" textLength="63.80" lengthAdjust="spacingAndGlyphs" fill="#1a1a1a">% HEL antigen</text>
<text x="254.70" y="534.80" font-size="10.0" text-anchor="middle" textLength="33.60" lengthAdjust="spacingAndGlyphs" fill="#1a1a1a">24 hour</text>
<path d="M211.50,554.20 L211.50,547.70 L231.20,547.70 L231.20,554.20" stroke="#1a1a1a" stroke-width="1.1" fill="none"/>
<text x="220.65" y="543.70" font-size="8.0" text-anchor="middle" textLength="7.50" lengthAdjust="spacingAndGlyphs" fill="#1a1a1a">ns</text>
<path d="M245.40,564.40 L245.40,558.50 L264.80,558.50 L264.80,564.40" stroke="#1a1a1a" stroke-width="1.1" fill="none"/>
<text x="255.10" y="554.60" font-size="8.0" text-anchor="middle" textLength="7.80" lengthAdjust="spacingAndGlyphs" fill="#1a1a1a">ns</text>
<path d="M278.80,555.00 L278.80,549.10 L298.50,549.10 L298.50,555.00" stroke="#1a1a1a" stroke-width="1.1" fill="none"/>
<text x="288.60" y="545.20" font-size="8.0" text-anchor="middle" textLength="7.80" lengthAdjust="spacingAndGlyphs" fill="#1a1a1a">ns</text>
<rect x="364.65" y="590.81" width="12.4" height="34.99" fill="#bcd4a0"/>
<rect x="381.37" y="587.86" width="12.4" height="37.94" fill="#bcd4a0"/>
<rect x="398.09" y="590.61" width="12.4" height="35.19" fill="#8b99c0"/>
<rect x="414.81" y="590.10" width="12.4" height="35.70" fill="#8b99c0"/>
<rect x="431.53" y="590.10" width="12.4" height="35.70" fill="#cf8a7e"/>
<rect x="448.25" y="588.88" width="12.4" height="36.92" fill="#cf8a7e"/>
<path d="M370.85,591.63 L370.85,590.10 M368.25,590.10 L373.45,590.10 M368.25,591.63 L373.45,591.63" stroke="#5aa534" stroke-width="0.9" fill="none"/>
<path d="M387.57,590.10 L387.57,585.20 M384.97,585.20 L390.17,585.20 M384.97,590.10 L390.17,590.10" stroke="#5aa534" stroke-width="0.9" fill="none"/>
<path d="M404.29,591.94 L404.29,589.28 M401.69,589.28 L406.89,589.28 M401.69,591.94 L406.89,591.94" stroke="#1b3a82" stroke-width="0.9" fill="none"/>
<path d="M421.01,591.32 L421.01,589.08 M418.41,589.08 L423.61,589.08 M418.41,591.32 L423.61,591.32" stroke="#1b3a82" stroke-width="0.9" fill="none"/>
<path d="M437.73,591.32 L437.73,589.08 M435.13,589.08 L440.33,589.08 M435.13,591.32 L440.33,591.32" stroke="#b8002b" stroke-width="0.9" fill="none"/>
<path d="M454.45,590.61 L454.45,587.04 M451.85,587.04 L457.05,587.04 M451.85,590.61 L457.05,590.61" stroke="#b8002b" stroke-width="0.9" fill="none"/>
<circle cx="366.80" cy="591.00" r="1.5" fill="#5aa534"/>
<circle cx="369.70" cy="592.00" r="1.5" fill="#5aa534"/>
<circle cx="372.60" cy="590.60" r="1.5" fill="#5aa534"/>
<circle cx="374.00" cy="591.50" r="1.5" fill="#5aa534"/>
<circle cx="368.40" cy="590.20" r="1.5" fill="#5aa534"/>
<circle cx="387.00" cy="563.50" r="1.6" fill="none" stroke="#5aa534" stroke-width="1.05"/>
<circle cx="386.80" cy="584.60" r="1.6" fill="none" stroke="#5aa534" stroke-width="1.05"/>
<circle cx="383.40" cy="589.40" r="1.6" fill="none" stroke="#5aa534" stroke-width="1.05"/>
<circle cx="386.20" cy="590.60" r="1.6" fill="none" stroke="#5aa534" stroke-width="1.05"/>
<circle cx="389.20" cy="589.40" r="1.6" fill="none" stroke="#5aa534" stroke-width="1.05"/>
<circle cx="385.00" cy="592.60" r="1.6" fill="none" stroke="#5aa534" stroke-width="1.05"/>
<circle cx="388.40" cy="592.80" r="1.6" fill="none" stroke="#5aa534" stroke-width="1.05"/>
<circle cx="390.60" cy="591.00" r="1.6" fill="none" stroke="#5aa534" stroke-width="1.05"/>
<circle cx="398.50" cy="587.70" r="1.5" fill="#1b3a82"/>
<circle cx="408.60" cy="588.20" r="1.5" fill="#1b3a82"/>
<circle cx="406.20" cy="589.10" r="1.5" fill="#1b3a82"/>
<circle cx="401.00" cy="591.40" r="1.5" fill="#1b3a82"/>
<circle cx="403.60" cy="592.60" r="1.5" fill="#1b3a82"/>
<circle cx="406.60" cy="591.60" r="1.5" fill="#1b3a82"/>
<circle cx="402.40" cy="593.20" r="1.5" fill="#1b3a82"/>
<circle cx="416.70" cy="589.60" r="1.6" fill="none" stroke="#1b3a82" stroke-width="1.05"/>
<circle cx="420.80" cy="588.60" r="1.6" fill="none" stroke="#1b3a82" stroke-width="1.05"/>
<circle cx="423.90" cy="589.10" r="1.6" fill="none" stroke="#1b3a82" stroke-width="1.05"/>
<circle cx="419.80" cy="593.20" r="1.6" fill="none" stroke="#1b3a82" stroke-width="1.05"/>
<circle cx="432.20" cy="588.00" r="1.5" fill="#b8002b"/>
<circle cx="442.10" cy="588.20" r="1.5" fill="#b8002b"/>
<circle cx="434.80" cy="591.20" r="1.5" fill="#b8002b"/>
<circle cx="438.50" cy="591.20" r="1.5" fill="#b8002b"/>
<circle cx="440.00" cy="590.10" r="1.5" fill="#b8002b"/>
<circle cx="436.40" cy="593.70" r="1.5" fill="#b8002b"/>
<circle cx="454.40" cy="569.60" r="1.6" fill="none" stroke="#b8002b" stroke-width="1.05"/>
<circle cx="451.50" cy="588.00" r="1.6" fill="none" stroke="#b8002b" stroke-width="1.05"/>
<circle cx="454.60" cy="587.00" r="1.6" fill="none" stroke="#b8002b" stroke-width="1.05"/>
<circle cx="457.70" cy="588.20" r="1.6" fill="none" stroke="#b8002b" stroke-width="1.05"/>
<circle cx="449.90" cy="590.60" r="1.6" fill="none" stroke="#b8002b" stroke-width="1.05"/>
<circle cx="453.50" cy="590.60" r="1.6" fill="none" stroke="#b8002b" stroke-width="1.05"/>
<circle cx="458.20" cy="591.20" r="1.6" fill="none" stroke="#b8002b" stroke-width="1.05"/>
<circle cx="451.50" cy="593.20" r="1.6" fill="none" stroke="#b8002b" stroke-width="1.05"/>
<circle cx="455.60" cy="593.70" r="1.6" fill="none" stroke="#b8002b" stroke-width="1.05"/>
<line x1="361.60" y1="540.20" x2="361.60" y2="626.35" stroke="#000" stroke-width="1.1"/>
<line x1="361.05" y1="625.80" x2="463.00" y2="625.80" stroke="#000" stroke-width="1.1"/>
<line x1="358.20" y1="625.80" x2="361.60" y2="625.80" stroke="#000" stroke-width="1"/>
<text x="354.40" y="628.60" font-size="8.3" text-anchor="end" textLength="4.27" lengthAdjust="spacingAndGlyphs" fill="#1a1a1a">0</text>
<line x1="358.20" y1="605.40" x2="361.60" y2="605.40" stroke="#000" stroke-width="1"/>
<text x="354.40" y="608.20" font-size="8.3" text-anchor="end" textLength="12.81" lengthAdjust="spacingAndGlyphs" fill="#1a1a1a">200</text>
<line x1="358.20" y1="585.00" x2="361.60" y2="585.00" stroke="#000" stroke-width="1"/>
<text x="354.40" y="587.80" font-size="8.3" text-anchor="end" textLength="12.81" lengthAdjust="spacingAndGlyphs" fill="#1a1a1a">400</text>
<line x1="358.20" y1="564.60" x2="361.60" y2="564.60" stroke="#000" stroke-width="1"/>
<text x="354.40" y="567.40" font-size="8.3" text-anchor="end" textLength="12.81" lengthAdjust="spacingAndGlyphs" fill="#1a1a1a">600</text>
<line x1="358.20" y1="544.20" x2="361.60" y2="544.20" stroke="#000" stroke-width="1"/>
<text x="354.40" y="547.00" font-size="8.3" text-anchor="end" textLength="12.81" lengthAdjust="spacingAndGlyphs" fill="#1a1a1a">800</text>
<line x1="370.85" y1="625.80" x2="370.85" y2="629.20" stroke="#000" stroke-width="1"/>
<line x1="387.57" y1="625.80" x2="387.57" y2="629.20" stroke="#000" stroke-width="1"/>
<line x1="404.29" y1="625.80" x2="404.29" y2="629.20" stroke="#000" stroke-width="1"/>
<line x1="421.01" y1="625.80" x2="421.01" y2="629.20" stroke="#000" stroke-width="1"/>
<line x1="437.73" y1="625.80" x2="437.73" y2="629.20" stroke="#000" stroke-width="1"/>
<line x1="454.45" y1="625.80" x2="454.45" y2="629.20" stroke="#000" stroke-width="1"/>
<text transform="translate(373.05,635.80) rotate(-45)" font-size="8.4" text-anchor="end" fill="#1a1a1a">PBS + Empty</text>
<text transform="translate(389.77,635.80) rotate(-45)" font-size="8.4" text-anchor="end" fill="#1a1a1a">PBS + Clodronate</text>
<text transform="translate(406.49,635.80) rotate(-45)" font-size="8.4" text-anchor="end" fill="#1a1a1a">Anti-KEL + Empty</text>
<text transform="translate(423.21,635.80) rotate(-45)" font-size="8.4" text-anchor="end" fill="#1a1a1a">Anti-KEL + Clodronate</text>
<text transform="translate(439.93,635.80) rotate(-45)" font-size="8.4" text-anchor="end" fill="#1a1a1a">Anti-HEL + Empty</text>
<text transform="translate(456.65,635.80) rotate(-45)" font-size="8.4" text-anchor="end" fill="#1a1a1a">Anti-HEL + Clodronate</text>
<text transform="translate(333.50,583.90) rotate(-90)" x="0" y="0" font-size="9.5" text-anchor="middle" textLength="57.40" lengthAdjust="spacingAndGlyphs" fill="#1a1a1a">TER119 (MFI)</text>
<text x="412.50" y="534.80" font-size="10.0" text-anchor="middle" textLength="34.50" lengthAdjust="spacingAndGlyphs" fill="#1a1a1a">24 hour</text>
<path d="M365.60,550.20 L365.60,544.20 L385.80,544.20 L385.80,550.20" stroke="#1a1a1a" stroke-width="1.1" fill="none"/>
<text x="375.80" y="540.20" font-size="8.0" text-anchor="middle" textLength="8.00" lengthAdjust="spacingAndGlyphs" fill="#1a1a1a">ns</text>
<path d="M399.20,559.80 L399.20,554.20 L418.90,554.20 L418.90,559.80" stroke="#1a1a1a" stroke-width="1.1" fill="none"/>
<text x="409.00" y="550.60" font-size="8.0" text-anchor="middle" textLength="8.00" lengthAdjust="spacingAndGlyphs" fill="#1a1a1a">ns</text>
<path d="M432.40,550.20 L432.40,544.80 L451.70,544.80 L451.70,550.20" stroke="#1a1a1a" stroke-width="1.1" fill="none"/>
<text x="442.00" y="540.80" font-size="8.0" text-anchor="middle" textLength="8.00" lengthAdjust="spacingAndGlyphs" fill="#1a1a1a">ns</text>
<rect x="0.7" y="0.6" width="518.6" height="703.5" fill="none" stroke="#000" stroke-width="1.4"/>
</svg>
</body></html>
